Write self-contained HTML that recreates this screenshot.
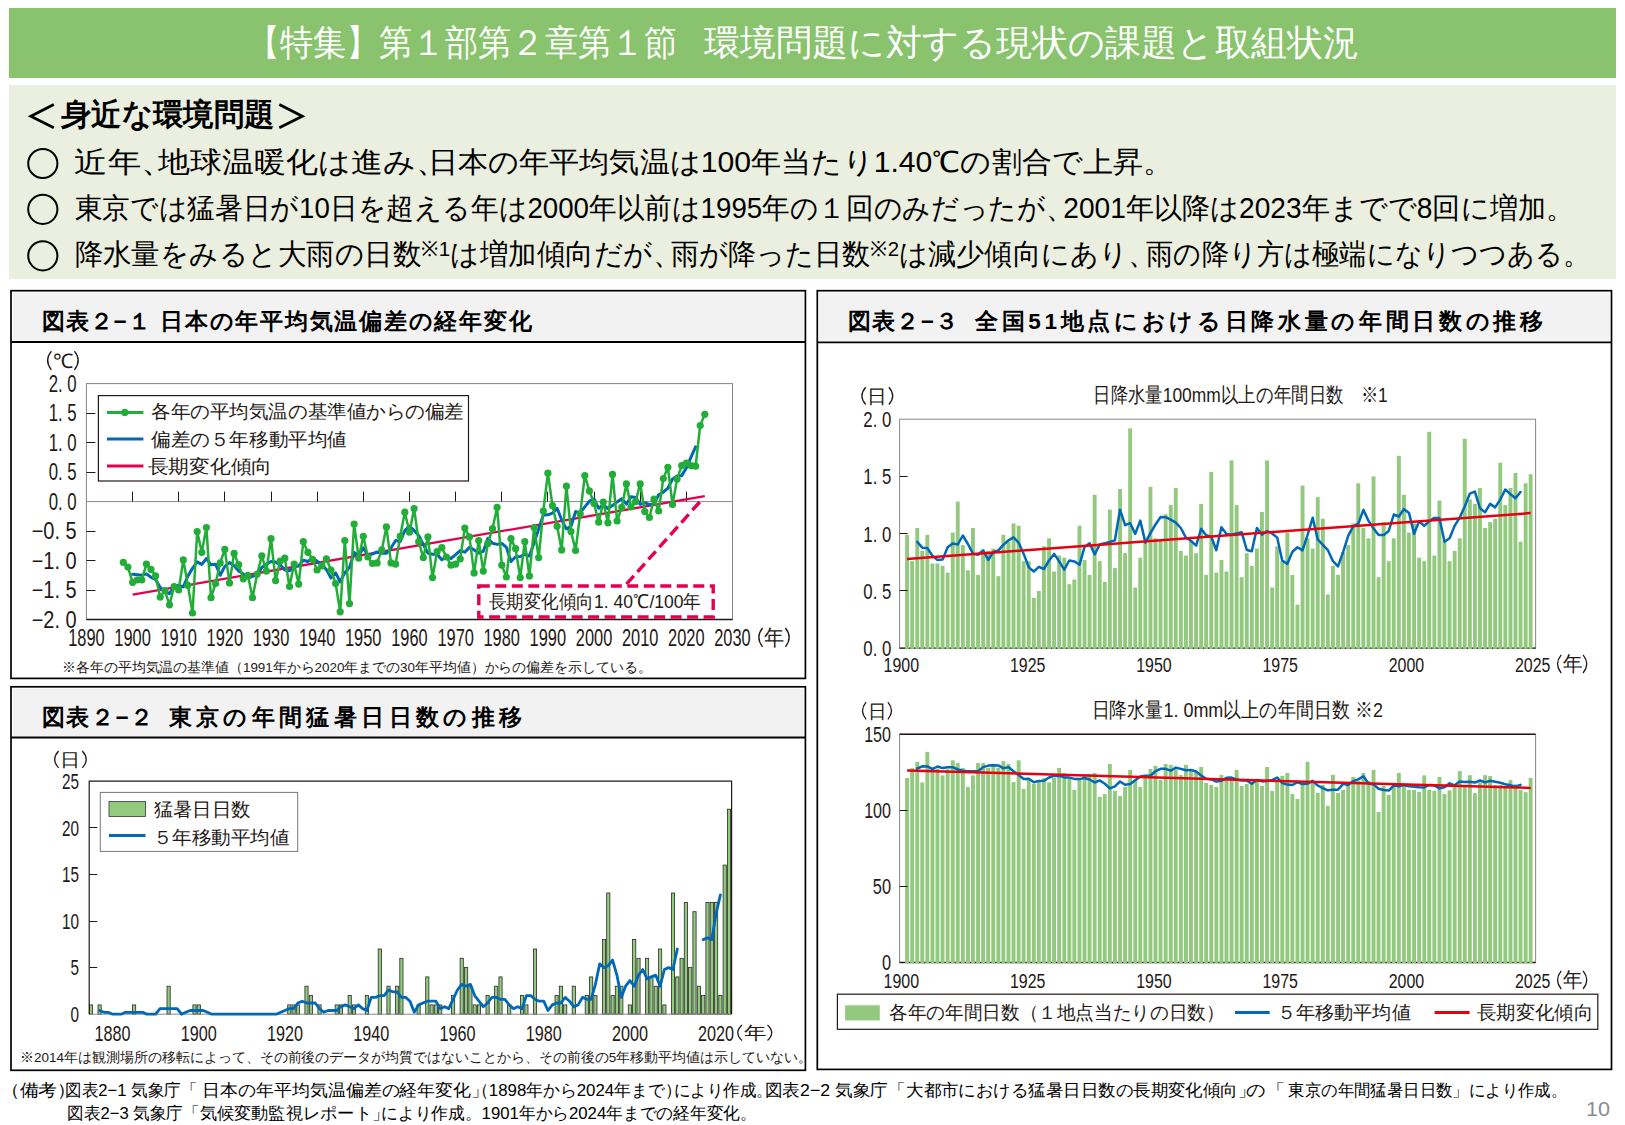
<!DOCTYPE html>
<html><head><meta charset="utf-8"><style>
html,body{margin:0;padding:0;background:#fff;width:1625px;height:1125px;overflow:hidden}
svg{display:block;font-family:"Liberation Sans", sans-serif}
</style></head><body>
<svg width="1625" height="1125" viewBox="0 0 1625 1125">
<rect x="9.0" y="8.0" width="1607.0" height="70.0" fill="#89C36D" stroke="none" stroke-width="0"/>
<text x="246.5" y="54.8" font-size="36" font-weight="normal" fill="#FFFFFF" textLength="430.6" lengthAdjust="spacingAndGlyphs">【特集】第１部第２章第１節</text>
<text x="704.0" y="54.8" font-size="36" font-weight="normal" fill="#FFFFFF" textLength="655.0" lengthAdjust="spacingAndGlyphs">環境問題に対する現状の課題と取組状況</text>
<rect x="9.0" y="85.0" width="1607.0" height="194.0" fill="#EBEFDF" stroke="none" stroke-width="0"/>
<text x="61.0" y="125.0" font-size="31" font-weight="bold" fill="#000" textLength="213.5" lengthAdjust="spacingAndGlyphs">身近な環境問題</text>
<polyline points="53.8,104.4 30.8,116.3 53.8,127.7" fill="none" stroke="#000" stroke-width="2.8"/>
<polyline points="279.3,104.4 302.3,116.3 279.3,127.7" fill="none" stroke="#000" stroke-width="2.8"/>
<circle cx="42.8" cy="163.5" r="14.6" fill="none" stroke="#000" stroke-width="2"/>
<circle cx="42.8" cy="209.3" r="14.6" fill="none" stroke="#000" stroke-width="2"/>
<circle cx="42.8" cy="255.8" r="14.6" fill="none" stroke="#000" stroke-width="2"/>
<text x="74.4" y="172.0" font-size="29" font-weight="normal" fill="#000" textLength="100.0" lengthAdjust="spacingAndGlyphs">近年、</text>
<text x="158.3" y="172.0" font-size="29" font-weight="normal" fill="#000" textLength="289.6" lengthAdjust="spacingAndGlyphs">地球温暖化は進み、</text>
<text x="427.7" y="172.0" font-size="29" font-weight="normal" fill="#000" textLength="745.6" lengthAdjust="spacingAndGlyphs">日本の年平均気温は100年当たり1.40℃の割合で上昇。</text>
<text x="74.8" y="218.0" font-size="29" font-weight="normal" fill="#000" textLength="998.5" lengthAdjust="spacingAndGlyphs">東京では猛暑日が10日を超える年は2000年以前は1995年の１回のみだったが、</text>
<text x="1063.3" y="218.0" font-size="29" font-weight="normal" fill="#000" textLength="510.6" lengthAdjust="spacingAndGlyphs">2001年以降は2023年までで8回に増加。</text>
<text x="74.5" y="264.0" font-size="29" font-weight="normal" fill="#000" textLength="606.5" lengthAdjust="spacingAndGlyphs">降水量をみると大雨の日数<tspan font-size="21" dy="-8">※1</tspan><tspan dy="8">は増加傾向だが、</tspan></text>
<text x="670.7" y="264.0" font-size="29" font-weight="normal" fill="#000" textLength="485.3" lengthAdjust="spacingAndGlyphs">雨が降った日数<tspan font-size="21" dy="-8">※2</tspan><tspan dy="8">は減少傾向にあり、</tspan></text>
<text x="1146.2" y="264.0" font-size="29" font-weight="normal" fill="#000" textLength="444.4" lengthAdjust="spacingAndGlyphs">雨の降り方は極端になりつつある。</text>
<rect x="12.8" y="292.5" width="790.8" height="47.9" fill="#F2F2F2" stroke="none" stroke-width="0"/>
<rect x="11.0" y="290.7" width="794.4" height="387.7" fill="none" stroke="#000" stroke-width="1.7"/>
<line x1="11.0" y1="342.0" x2="805.4" y2="342.0" stroke="#000" stroke-width="1.8"/>
<rect x="12.8" y="688.6" width="790.8" height="47.3" fill="#F2F2F2" stroke="none" stroke-width="0"/>
<rect x="11.0" y="686.8" width="794.4" height="383.5" fill="none" stroke="#000" stroke-width="1.7"/>
<line x1="11.0" y1="737.5" x2="805.4" y2="737.5" stroke="#000" stroke-width="1.8"/>
<rect x="819.1" y="292.5" width="790.6" height="48.2" fill="#F2F2F2" stroke="none" stroke-width="0"/>
<rect x="817.3" y="290.7" width="794.2" height="778.7" fill="none" stroke="#000" stroke-width="1.7"/>
<line x1="817.3" y1="342.3" x2="1611.5" y2="342.3" stroke="#000" stroke-width="1.8"/>
<text x="42.0" y="328.5" font-size="22.5" font-weight="bold" fill="#000" textLength="108.5" lengthAdjust="spacing">図表２−１</text>
<text x="160.0" y="328.5" font-size="22.5" font-weight="bold" fill="#000" textLength="371.5" lengthAdjust="spacing">日本の年平均気温偏差の経年変化</text>
<text x="42.0" y="725.0" font-size="22.5" font-weight="bold" fill="#000" textLength="111.0" lengthAdjust="spacing">図表２−２</text>
<text x="168.5" y="725.0" font-size="22.5" font-weight="bold" fill="#000" textLength="353.5" lengthAdjust="spacing">東京の年間猛暑日日数の推移</text>
<text x="848.0" y="328.5" font-size="22.5" font-weight="bold" fill="#000" textLength="110.0" lengthAdjust="spacing">図表２−３</text>
<text x="975.0" y="328.5" font-size="22.5" font-weight="bold" fill="#000" textLength="568.0" lengthAdjust="spacing">全国51地点における日降水量の年間日数の推移</text>
<rect x="86.4" y="383.6" width="646.1" height="235.9" fill="none" stroke="#888" stroke-width="1"/>
<line x1="86.4" y1="619.5" x2="732.5" y2="619.5" stroke="#231815" stroke-width="1.5"/>
<line x1="86.4" y1="501.6" x2="732.5" y2="501.6" stroke="#888" stroke-width="1"/>
<line x1="86.4" y1="413.5" x2="95.4" y2="413.5" stroke="#231815" stroke-width="1"/>
<line x1="86.4" y1="442.5" x2="95.4" y2="442.5" stroke="#231815" stroke-width="1"/>
<line x1="86.4" y1="472.5" x2="95.4" y2="472.5" stroke="#231815" stroke-width="1"/>
<line x1="86.4" y1="531.5" x2="95.4" y2="531.5" stroke="#231815" stroke-width="1"/>
<line x1="86.4" y1="560.5" x2="95.4" y2="560.5" stroke="#231815" stroke-width="1"/>
<line x1="86.4" y1="590.5" x2="95.4" y2="590.5" stroke="#231815" stroke-width="1"/>
<line x1="132.5" y1="491.6" x2="132.5" y2="501.6" stroke="#231815" stroke-width="1"/>
<line x1="178.5" y1="491.6" x2="178.5" y2="501.6" stroke="#231815" stroke-width="1"/>
<line x1="224.5" y1="491.6" x2="224.5" y2="501.6" stroke="#231815" stroke-width="1"/>
<line x1="271.5" y1="491.6" x2="271.5" y2="501.6" stroke="#231815" stroke-width="1"/>
<line x1="317.5" y1="491.6" x2="317.5" y2="501.6" stroke="#231815" stroke-width="1"/>
<line x1="363.5" y1="491.6" x2="363.5" y2="501.6" stroke="#231815" stroke-width="1"/>
<line x1="409.5" y1="491.6" x2="409.5" y2="501.6" stroke="#231815" stroke-width="1"/>
<line x1="455.5" y1="491.6" x2="455.5" y2="501.6" stroke="#231815" stroke-width="1"/>
<line x1="501.5" y1="491.6" x2="501.5" y2="501.6" stroke="#231815" stroke-width="1"/>
<line x1="547.5" y1="491.6" x2="547.5" y2="501.6" stroke="#231815" stroke-width="1"/>
<line x1="594.5" y1="491.6" x2="594.5" y2="501.6" stroke="#231815" stroke-width="1"/>
<line x1="640.5" y1="491.6" x2="640.5" y2="501.6" stroke="#231815" stroke-width="1"/>
<line x1="686.5" y1="491.6" x2="686.5" y2="501.6" stroke="#231815" stroke-width="1"/>
<text x="48.7" y="391.8" font-size="23" font-weight="normal" fill="#231815" textLength="28.0" lengthAdjust="spacingAndGlyphs">2. 0</text>
<text x="48.7" y="421.3" font-size="23" font-weight="normal" fill="#231815" textLength="28.0" lengthAdjust="spacingAndGlyphs">1. 5</text>
<text x="48.7" y="450.8" font-size="23" font-weight="normal" fill="#231815" textLength="28.0" lengthAdjust="spacingAndGlyphs">1. 0</text>
<text x="48.7" y="480.3" font-size="23" font-weight="normal" fill="#231815" textLength="28.0" lengthAdjust="spacingAndGlyphs">0. 5</text>
<text x="48.7" y="509.8" font-size="23" font-weight="normal" fill="#231815" textLength="28.0" lengthAdjust="spacingAndGlyphs">0. 0</text>
<text x="31.7" y="539.2" font-size="23" font-weight="normal" fill="#231815" textLength="45.0" lengthAdjust="spacingAndGlyphs">−0. 5</text>
<text x="31.7" y="568.7" font-size="23" font-weight="normal" fill="#231815" textLength="45.0" lengthAdjust="spacingAndGlyphs">−1. 0</text>
<text x="31.7" y="598.2" font-size="23" font-weight="normal" fill="#231815" textLength="45.0" lengthAdjust="spacingAndGlyphs">−1. 5</text>
<text x="31.7" y="627.7" font-size="23" font-weight="normal" fill="#231815" textLength="45.0" lengthAdjust="spacingAndGlyphs">−2. 0</text>
<text x="68.2" y="645.8" font-size="23" font-weight="normal" fill="#231815" textLength="36.5" lengthAdjust="spacingAndGlyphs">1890</text>
<text x="114.3" y="645.8" font-size="23" font-weight="normal" fill="#231815" textLength="36.5" lengthAdjust="spacingAndGlyphs">1900</text>
<text x="160.4" y="645.8" font-size="23" font-weight="normal" fill="#231815" textLength="36.5" lengthAdjust="spacingAndGlyphs">1910</text>
<text x="206.6" y="645.8" font-size="23" font-weight="normal" fill="#231815" textLength="36.5" lengthAdjust="spacingAndGlyphs">1920</text>
<text x="252.8" y="645.8" font-size="23" font-weight="normal" fill="#231815" textLength="36.5" lengthAdjust="spacingAndGlyphs">1930</text>
<text x="298.9" y="645.8" font-size="23" font-weight="normal" fill="#231815" textLength="36.5" lengthAdjust="spacingAndGlyphs">1940</text>
<text x="345.0" y="645.8" font-size="23" font-weight="normal" fill="#231815" textLength="36.5" lengthAdjust="spacingAndGlyphs">1950</text>
<text x="391.2" y="645.8" font-size="23" font-weight="normal" fill="#231815" textLength="36.5" lengthAdjust="spacingAndGlyphs">1960</text>
<text x="437.4" y="645.8" font-size="23" font-weight="normal" fill="#231815" textLength="36.5" lengthAdjust="spacingAndGlyphs">1970</text>
<text x="483.5" y="645.8" font-size="23" font-weight="normal" fill="#231815" textLength="36.5" lengthAdjust="spacingAndGlyphs">1980</text>
<text x="529.6" y="645.8" font-size="23" font-weight="normal" fill="#231815" textLength="36.5" lengthAdjust="spacingAndGlyphs">1990</text>
<text x="575.8" y="645.8" font-size="23" font-weight="normal" fill="#231815" textLength="36.5" lengthAdjust="spacingAndGlyphs">2000</text>
<text x="621.9" y="645.8" font-size="23" font-weight="normal" fill="#231815" textLength="36.5" lengthAdjust="spacingAndGlyphs">2010</text>
<text x="668.1" y="645.8" font-size="23" font-weight="normal" fill="#231815" textLength="36.5" lengthAdjust="spacingAndGlyphs">2020</text>
<text x="714.2" y="645.8" font-size="23" font-weight="normal" fill="#231815" textLength="36.5" lengthAdjust="spacingAndGlyphs">2030</text>
<path d="M762.6,628.0 Q755.0,637.4 762.6,646.8" fill="none" stroke="#231815" stroke-width="1.3"/>
<path d="M785.4,628.0 Q793.0,637.4 785.4,646.8" fill="none" stroke="#231815" stroke-width="1.3"/>
<text x="763.9" y="644.6" font-size="21.6" font-weight="normal" fill="#231815" textLength="20.2" lengthAdjust="spacingAndGlyphs">年</text>
<path d="M51.4,351.1 Q43.8,360.5 51.4,369.8" fill="none" stroke="#231815" stroke-width="1.3"/>
<path d="M74.4,351.1 Q82.0,360.5 74.4,369.8" fill="none" stroke="#231815" stroke-width="1.3"/>
<text x="52.8" y="367.8" font-size="20.1" font-weight="normal" fill="#231815" textLength="20.3" lengthAdjust="spacingAndGlyphs">℃</text>
<line x1="132.6" y1="594.6" x2="704.8" y2="496.2" stroke="#E4004E" stroke-width="2.3"/>
<polyline points="132.6,574.3 137.2,574.7 141.8,575.2 146.4,573.9 151.0,577.3 155.6,579.4 160.2,587.5 164.9,591.0 169.5,593.8 174.1,586.4 178.7,585.3 183.3,586.9 187.9,576.0 192.5,568.4 197.2,561.9 201.8,564.4 206.4,558.5 211.0,564.8 215.6,564.2 220.2,575.3 224.8,566.4 229.5,562.6 234.1,565.8 238.7,571.0 243.3,574.0 247.9,578.1 252.5,576.3 257.2,574.8 261.8,567.5 266.4,564.1 271.0,561.5 275.6,561.9 280.2,565.0 284.8,570.1 289.5,570.8 294.1,566.9 298.7,565.7 303.3,560.3 307.9,561.5 312.5,557.8 317.1,561.2 321.8,564.8 326.4,569.6 331.0,578.0 335.6,572.9 340.2,581.9 344.8,572.7 349.5,567.6 354.1,552.5 358.7,555.8 363.3,547.8 367.9,555.6 372.5,553.9 377.1,552.0 381.8,553.2 386.4,553.3 391.0,548.0 395.6,540.5 400.2,541.5 404.8,530.7 409.5,526.2 414.1,530.4 418.7,535.4 423.3,544.5 427.9,553.1 432.5,554.3 437.1,554.2 441.8,559.8 446.4,557.1 451.0,558.5 455.6,554.6 460.2,550.6 464.8,552.2 469.4,547.4 474.1,549.9 478.7,553.0 483.3,551.3 487.9,538.2 492.5,543.2 497.1,544.4 501.8,543.4 506.4,547.4 511.0,561.5 515.6,556.8 520.2,556.5 524.8,554.3 529.4,556.0 534.1,542.7 538.7,529.0 543.3,515.0 547.9,514.8 552.5,513.2 557.1,508.3 561.7,520.0 566.4,528.9 571.0,526.4 575.6,511.6 580.2,512.5 584.8,506.9 589.4,501.2 594.0,498.8 598.7,508.3 603.3,505.0 607.9,508.5 612.5,505.6 617.1,501.9 621.7,498.7 626.4,504.1 631.0,496.7 635.6,497.5 640.2,504.3 644.8,502.7 649.4,504.6 654.0,503.6 658.7,494.7 663.3,492.1 667.9,488.1 672.5,479.0 677.1,476.0 681.7,475.6 686.4,467.9 691.0,457.2 695.6,446.9" fill="none" stroke="#0068B7" stroke-width="3" stroke-linejoin="round" stroke-linecap="round"/>
<polyline points="123.3,562.3 127.9,567.0 132.6,582.3 137.2,580.0 141.8,580.0 146.4,564.1 151.0,569.4 155.6,575.9 160.2,597.1 164.9,590.6 169.5,604.8 174.1,586.5 178.7,590.0 183.3,559.9 187.9,585.3 192.5,613.0 197.2,531.6 201.8,552.3 206.4,527.5 211.0,597.7 215.6,583.5 220.2,562.9 224.8,549.3 229.5,582.9 234.1,553.4 238.7,564.7 243.3,578.8 247.9,575.3 252.5,597.7 257.2,574.1 261.8,555.8 266.4,571.1 271.0,538.7 275.6,580.6 280.2,561.1 284.8,558.2 289.5,586.5 294.1,564.1 298.7,584.1 303.3,541.7 307.9,552.3 312.5,559.3 317.1,570.0 321.8,565.8 326.4,558.8 331.0,570.0 335.6,583.5 340.2,611.8 344.8,540.5 349.5,603.6 354.1,524.0 358.7,558.2 363.3,536.3 367.9,557.0 372.5,563.5 377.1,562.9 381.8,549.9 386.4,526.9 391.0,562.9 395.6,564.1 400.2,536.3 404.8,512.2 409.5,532.2 414.1,508.6 418.7,541.7 423.3,557.6 427.9,536.9 432.5,577.6 437.1,551.7 441.8,547.6 446.4,557.0 451.0,565.2 455.6,564.1 460.2,558.8 464.8,528.1 469.4,536.9 474.1,572.9 478.7,540.5 483.3,571.1 487.9,543.4 492.5,528.7 497.1,507.4 501.8,565.2 506.4,577.0 511.0,538.7 515.6,548.7 520.2,577.6 524.8,541.7 529.4,575.9 534.1,527.5 538.7,557.6 543.3,511.0 547.9,473.2 552.5,505.7 557.1,526.3 561.7,549.9 566.4,486.2 571.0,531.6 575.6,550.5 580.2,513.9 584.8,475.6 589.4,490.9 594.0,503.3 598.7,522.2 603.3,502.1 607.9,522.8 612.5,474.4 617.1,521.0 621.7,507.4 626.4,483.9 631.0,506.9 635.6,501.6 640.2,483.9 644.8,511.6 649.4,517.5 654.0,499.2 658.7,511.0 663.3,478.5 667.9,467.3 672.5,504.5 677.1,479.1 681.7,465.6 686.4,463.2 691.0,465.6 695.6,466.2 700.2,425.5 704.8,414.3" fill="none" stroke="#22AC38" stroke-width="2.5" stroke-linejoin="round" stroke-linecap="round"/>
<circle cx="123.3" cy="562.3" r="3.6" fill="#22AC38"/>
<circle cx="127.9" cy="567.0" r="3.6" fill="#22AC38"/>
<circle cx="132.6" cy="582.3" r="3.6" fill="#22AC38"/>
<circle cx="137.2" cy="580.0" r="3.6" fill="#22AC38"/>
<circle cx="141.8" cy="580.0" r="3.6" fill="#22AC38"/>
<circle cx="146.4" cy="564.1" r="3.6" fill="#22AC38"/>
<circle cx="151.0" cy="569.4" r="3.6" fill="#22AC38"/>
<circle cx="155.6" cy="575.9" r="3.6" fill="#22AC38"/>
<circle cx="160.2" cy="597.1" r="3.6" fill="#22AC38"/>
<circle cx="164.9" cy="590.6" r="3.6" fill="#22AC38"/>
<circle cx="169.5" cy="604.8" r="3.6" fill="#22AC38"/>
<circle cx="174.1" cy="586.5" r="3.6" fill="#22AC38"/>
<circle cx="178.7" cy="590.0" r="3.6" fill="#22AC38"/>
<circle cx="183.3" cy="559.9" r="3.6" fill="#22AC38"/>
<circle cx="187.9" cy="585.3" r="3.6" fill="#22AC38"/>
<circle cx="192.5" cy="613.0" r="3.6" fill="#22AC38"/>
<circle cx="197.2" cy="531.6" r="3.6" fill="#22AC38"/>
<circle cx="201.8" cy="552.3" r="3.6" fill="#22AC38"/>
<circle cx="206.4" cy="527.5" r="3.6" fill="#22AC38"/>
<circle cx="211.0" cy="597.7" r="3.6" fill="#22AC38"/>
<circle cx="215.6" cy="583.5" r="3.6" fill="#22AC38"/>
<circle cx="220.2" cy="562.9" r="3.6" fill="#22AC38"/>
<circle cx="224.8" cy="549.3" r="3.6" fill="#22AC38"/>
<circle cx="229.5" cy="582.9" r="3.6" fill="#22AC38"/>
<circle cx="234.1" cy="553.4" r="3.6" fill="#22AC38"/>
<circle cx="238.7" cy="564.7" r="3.6" fill="#22AC38"/>
<circle cx="243.3" cy="578.8" r="3.6" fill="#22AC38"/>
<circle cx="247.9" cy="575.3" r="3.6" fill="#22AC38"/>
<circle cx="252.5" cy="597.7" r="3.6" fill="#22AC38"/>
<circle cx="257.2" cy="574.1" r="3.6" fill="#22AC38"/>
<circle cx="261.8" cy="555.8" r="3.6" fill="#22AC38"/>
<circle cx="266.4" cy="571.1" r="3.6" fill="#22AC38"/>
<circle cx="271.0" cy="538.7" r="3.6" fill="#22AC38"/>
<circle cx="275.6" cy="580.6" r="3.6" fill="#22AC38"/>
<circle cx="280.2" cy="561.1" r="3.6" fill="#22AC38"/>
<circle cx="284.8" cy="558.2" r="3.6" fill="#22AC38"/>
<circle cx="289.5" cy="586.5" r="3.6" fill="#22AC38"/>
<circle cx="294.1" cy="564.1" r="3.6" fill="#22AC38"/>
<circle cx="298.7" cy="584.1" r="3.6" fill="#22AC38"/>
<circle cx="303.3" cy="541.7" r="3.6" fill="#22AC38"/>
<circle cx="307.9" cy="552.3" r="3.6" fill="#22AC38"/>
<circle cx="312.5" cy="559.3" r="3.6" fill="#22AC38"/>
<circle cx="317.1" cy="570.0" r="3.6" fill="#22AC38"/>
<circle cx="321.8" cy="565.8" r="3.6" fill="#22AC38"/>
<circle cx="326.4" cy="558.8" r="3.6" fill="#22AC38"/>
<circle cx="331.0" cy="570.0" r="3.6" fill="#22AC38"/>
<circle cx="335.6" cy="583.5" r="3.6" fill="#22AC38"/>
<circle cx="340.2" cy="611.8" r="3.6" fill="#22AC38"/>
<circle cx="344.8" cy="540.5" r="3.6" fill="#22AC38"/>
<circle cx="349.5" cy="603.6" r="3.6" fill="#22AC38"/>
<circle cx="354.1" cy="524.0" r="3.6" fill="#22AC38"/>
<circle cx="358.7" cy="558.2" r="3.6" fill="#22AC38"/>
<circle cx="363.3" cy="536.3" r="3.6" fill="#22AC38"/>
<circle cx="367.9" cy="557.0" r="3.6" fill="#22AC38"/>
<circle cx="372.5" cy="563.5" r="3.6" fill="#22AC38"/>
<circle cx="377.1" cy="562.9" r="3.6" fill="#22AC38"/>
<circle cx="381.8" cy="549.9" r="3.6" fill="#22AC38"/>
<circle cx="386.4" cy="526.9" r="3.6" fill="#22AC38"/>
<circle cx="391.0" cy="562.9" r="3.6" fill="#22AC38"/>
<circle cx="395.6" cy="564.1" r="3.6" fill="#22AC38"/>
<circle cx="400.2" cy="536.3" r="3.6" fill="#22AC38"/>
<circle cx="404.8" cy="512.2" r="3.6" fill="#22AC38"/>
<circle cx="409.5" cy="532.2" r="3.6" fill="#22AC38"/>
<circle cx="414.1" cy="508.6" r="3.6" fill="#22AC38"/>
<circle cx="418.7" cy="541.7" r="3.6" fill="#22AC38"/>
<circle cx="423.3" cy="557.6" r="3.6" fill="#22AC38"/>
<circle cx="427.9" cy="536.9" r="3.6" fill="#22AC38"/>
<circle cx="432.5" cy="577.6" r="3.6" fill="#22AC38"/>
<circle cx="437.1" cy="551.7" r="3.6" fill="#22AC38"/>
<circle cx="441.8" cy="547.6" r="3.6" fill="#22AC38"/>
<circle cx="446.4" cy="557.0" r="3.6" fill="#22AC38"/>
<circle cx="451.0" cy="565.2" r="3.6" fill="#22AC38"/>
<circle cx="455.6" cy="564.1" r="3.6" fill="#22AC38"/>
<circle cx="460.2" cy="558.8" r="3.6" fill="#22AC38"/>
<circle cx="464.8" cy="528.1" r="3.6" fill="#22AC38"/>
<circle cx="469.4" cy="536.9" r="3.6" fill="#22AC38"/>
<circle cx="474.1" cy="572.9" r="3.6" fill="#22AC38"/>
<circle cx="478.7" cy="540.5" r="3.6" fill="#22AC38"/>
<circle cx="483.3" cy="571.1" r="3.6" fill="#22AC38"/>
<circle cx="487.9" cy="543.4" r="3.6" fill="#22AC38"/>
<circle cx="492.5" cy="528.7" r="3.6" fill="#22AC38"/>
<circle cx="497.1" cy="507.4" r="3.6" fill="#22AC38"/>
<circle cx="501.8" cy="565.2" r="3.6" fill="#22AC38"/>
<circle cx="506.4" cy="577.0" r="3.6" fill="#22AC38"/>
<circle cx="511.0" cy="538.7" r="3.6" fill="#22AC38"/>
<circle cx="515.6" cy="548.7" r="3.6" fill="#22AC38"/>
<circle cx="520.2" cy="577.6" r="3.6" fill="#22AC38"/>
<circle cx="524.8" cy="541.7" r="3.6" fill="#22AC38"/>
<circle cx="529.4" cy="575.9" r="3.6" fill="#22AC38"/>
<circle cx="534.1" cy="527.5" r="3.6" fill="#22AC38"/>
<circle cx="538.7" cy="557.6" r="3.6" fill="#22AC38"/>
<circle cx="543.3" cy="511.0" r="3.6" fill="#22AC38"/>
<circle cx="547.9" cy="473.2" r="3.6" fill="#22AC38"/>
<circle cx="552.5" cy="505.7" r="3.6" fill="#22AC38"/>
<circle cx="557.1" cy="526.3" r="3.6" fill="#22AC38"/>
<circle cx="561.7" cy="549.9" r="3.6" fill="#22AC38"/>
<circle cx="566.4" cy="486.2" r="3.6" fill="#22AC38"/>
<circle cx="571.0" cy="531.6" r="3.6" fill="#22AC38"/>
<circle cx="575.6" cy="550.5" r="3.6" fill="#22AC38"/>
<circle cx="580.2" cy="513.9" r="3.6" fill="#22AC38"/>
<circle cx="584.8" cy="475.6" r="3.6" fill="#22AC38"/>
<circle cx="589.4" cy="490.9" r="3.6" fill="#22AC38"/>
<circle cx="594.0" cy="503.3" r="3.6" fill="#22AC38"/>
<circle cx="598.7" cy="522.2" r="3.6" fill="#22AC38"/>
<circle cx="603.3" cy="502.1" r="3.6" fill="#22AC38"/>
<circle cx="607.9" cy="522.8" r="3.6" fill="#22AC38"/>
<circle cx="612.5" cy="474.4" r="3.6" fill="#22AC38"/>
<circle cx="617.1" cy="521.0" r="3.6" fill="#22AC38"/>
<circle cx="621.7" cy="507.4" r="3.6" fill="#22AC38"/>
<circle cx="626.4" cy="483.9" r="3.6" fill="#22AC38"/>
<circle cx="631.0" cy="506.9" r="3.6" fill="#22AC38"/>
<circle cx="635.6" cy="501.6" r="3.6" fill="#22AC38"/>
<circle cx="640.2" cy="483.9" r="3.6" fill="#22AC38"/>
<circle cx="644.8" cy="511.6" r="3.6" fill="#22AC38"/>
<circle cx="649.4" cy="517.5" r="3.6" fill="#22AC38"/>
<circle cx="654.0" cy="499.2" r="3.6" fill="#22AC38"/>
<circle cx="658.7" cy="511.0" r="3.6" fill="#22AC38"/>
<circle cx="663.3" cy="478.5" r="3.6" fill="#22AC38"/>
<circle cx="667.9" cy="467.3" r="3.6" fill="#22AC38"/>
<circle cx="672.5" cy="504.5" r="3.6" fill="#22AC38"/>
<circle cx="677.1" cy="479.1" r="3.6" fill="#22AC38"/>
<circle cx="681.7" cy="465.6" r="3.6" fill="#22AC38"/>
<circle cx="686.4" cy="463.2" r="3.6" fill="#22AC38"/>
<circle cx="691.0" cy="465.6" r="3.6" fill="#22AC38"/>
<circle cx="695.6" cy="466.2" r="3.6" fill="#22AC38"/>
<circle cx="700.2" cy="425.5" r="3.6" fill="#22AC38"/>
<circle cx="704.8" cy="414.3" r="3.6" fill="#22AC38"/>
<rect x="98.4" y="395.6" width="370.1" height="85.4" fill="#fff" stroke="#231815" stroke-width="1.2"/>
<line x1="107.0" y1="412.4" x2="143.4" y2="412.4" stroke="#22AC38" stroke-width="3"/>
<circle cx="124.8" cy="412.4" r="3.6" fill="#22AC38"/>
<text x="151.0" y="418.2" font-size="19" font-weight="normal" fill="#231815" textLength="313.0" lengthAdjust="spacingAndGlyphs">各年の平均気温の基準値からの偏差</text>
<line x1="107.0" y1="439.0" x2="143.4" y2="439.0" stroke="#0068B7" stroke-width="3"/>
<text x="151.0" y="445.5" font-size="19" font-weight="normal" fill="#231815" textLength="196.0" lengthAdjust="spacingAndGlyphs">偏差の５年移動平均値</text>
<line x1="107.0" y1="466.0" x2="143.4" y2="466.0" stroke="#E4004E" stroke-width="3"/>
<text x="147.6" y="472.5" font-size="19" font-weight="normal" fill="#231815" textLength="124.5" lengthAdjust="spacingAndGlyphs">長期変化傾向</text>
<rect x="478.8" y="586.0" width="234.4" height="31.0" fill="#fff" stroke="#E4004E" stroke-width="3.4" stroke-dasharray="11,5.5"/>
<line x1="699.7" y1="502.0" x2="624.8" y2="586.0" stroke="#E4004E" stroke-width="3.4" stroke-dasharray="11,5.5"/>
<text x="489.0" y="607.5" font-size="19" font-weight="normal" fill="#231815" textLength="212.0" lengthAdjust="spacingAndGlyphs">長期変化傾向1. 40℃/100年</text>
<text x="62.0" y="672.0" font-size="13.5" font-weight="normal" fill="#231815" textLength="589.6" lengthAdjust="spacingAndGlyphs">※各年の平均気温の基準値（1991年から2020年までの30年平均値）からの偏差を示している。</text>
<rect x="89.4" y="1004.9" width="3.2" height="9.3" fill="#93CB7E" stroke="#2a2a2a" stroke-width="0.8"/>
<rect x="98.0" y="1004.9" width="3.2" height="9.3" fill="#93CB7E" stroke="#2a2a2a" stroke-width="0.8"/>
<rect x="132.5" y="1004.9" width="3.2" height="9.3" fill="#93CB7E" stroke="#2a2a2a" stroke-width="0.8"/>
<rect x="167.0" y="986.2" width="3.2" height="28.0" fill="#93CB7E" stroke="#2a2a2a" stroke-width="0.8"/>
<rect x="192.9" y="1004.9" width="3.2" height="9.3" fill="#93CB7E" stroke="#2a2a2a" stroke-width="0.8"/>
<rect x="197.2" y="1004.9" width="3.2" height="9.3" fill="#93CB7E" stroke="#2a2a2a" stroke-width="0.8"/>
<rect x="287.7" y="1004.9" width="3.2" height="9.3" fill="#93CB7E" stroke="#2a2a2a" stroke-width="0.8"/>
<rect x="292.0" y="1004.9" width="3.2" height="9.3" fill="#93CB7E" stroke="#2a2a2a" stroke-width="0.8"/>
<rect x="296.3" y="1004.9" width="3.2" height="9.3" fill="#93CB7E" stroke="#2a2a2a" stroke-width="0.8"/>
<rect x="304.9" y="986.2" width="3.2" height="28.0" fill="#93CB7E" stroke="#2a2a2a" stroke-width="0.8"/>
<rect x="309.3" y="995.6" width="3.2" height="18.6" fill="#93CB7E" stroke="#2a2a2a" stroke-width="0.8"/>
<rect x="317.9" y="1004.9" width="3.2" height="9.3" fill="#93CB7E" stroke="#2a2a2a" stroke-width="0.8"/>
<rect x="335.1" y="1004.9" width="3.2" height="9.3" fill="#93CB7E" stroke="#2a2a2a" stroke-width="0.8"/>
<rect x="339.4" y="1004.9" width="3.2" height="9.3" fill="#93CB7E" stroke="#2a2a2a" stroke-width="0.8"/>
<rect x="348.1" y="995.6" width="3.2" height="18.6" fill="#93CB7E" stroke="#2a2a2a" stroke-width="0.8"/>
<rect x="352.4" y="1004.9" width="3.2" height="9.3" fill="#93CB7E" stroke="#2a2a2a" stroke-width="0.8"/>
<rect x="365.3" y="995.6" width="3.2" height="18.6" fill="#93CB7E" stroke="#2a2a2a" stroke-width="0.8"/>
<rect x="378.2" y="949.0" width="3.2" height="65.2" fill="#93CB7E" stroke="#2a2a2a" stroke-width="0.8"/>
<rect x="386.9" y="986.2" width="3.2" height="28.0" fill="#93CB7E" stroke="#2a2a2a" stroke-width="0.8"/>
<rect x="395.5" y="986.2" width="3.2" height="28.0" fill="#93CB7E" stroke="#2a2a2a" stroke-width="0.8"/>
<rect x="399.8" y="958.3" width="3.2" height="55.9" fill="#93CB7E" stroke="#2a2a2a" stroke-width="0.8"/>
<rect x="417.0" y="1004.9" width="3.2" height="9.3" fill="#93CB7E" stroke="#2a2a2a" stroke-width="0.8"/>
<rect x="425.7" y="976.9" width="3.2" height="37.3" fill="#93CB7E" stroke="#2a2a2a" stroke-width="0.8"/>
<rect x="430.0" y="1004.9" width="3.2" height="9.3" fill="#93CB7E" stroke="#2a2a2a" stroke-width="0.8"/>
<rect x="434.3" y="1004.9" width="3.2" height="9.3" fill="#93CB7E" stroke="#2a2a2a" stroke-width="0.8"/>
<rect x="438.6" y="1004.9" width="3.2" height="9.3" fill="#93CB7E" stroke="#2a2a2a" stroke-width="0.8"/>
<rect x="451.5" y="995.6" width="3.2" height="18.6" fill="#93CB7E" stroke="#2a2a2a" stroke-width="0.8"/>
<rect x="460.1" y="958.3" width="3.2" height="55.9" fill="#93CB7E" stroke="#2a2a2a" stroke-width="0.8"/>
<rect x="464.5" y="967.6" width="3.2" height="46.6" fill="#93CB7E" stroke="#2a2a2a" stroke-width="0.8"/>
<rect x="468.8" y="986.2" width="3.2" height="28.0" fill="#93CB7E" stroke="#2a2a2a" stroke-width="0.8"/>
<rect x="473.1" y="1004.9" width="3.2" height="9.3" fill="#93CB7E" stroke="#2a2a2a" stroke-width="0.8"/>
<rect x="477.4" y="1004.9" width="3.2" height="9.3" fill="#93CB7E" stroke="#2a2a2a" stroke-width="0.8"/>
<rect x="486.0" y="995.6" width="3.2" height="18.6" fill="#93CB7E" stroke="#2a2a2a" stroke-width="0.8"/>
<rect x="494.6" y="986.2" width="3.2" height="28.0" fill="#93CB7E" stroke="#2a2a2a" stroke-width="0.8"/>
<rect x="498.9" y="976.9" width="3.2" height="37.3" fill="#93CB7E" stroke="#2a2a2a" stroke-width="0.8"/>
<rect x="507.6" y="1004.9" width="3.2" height="9.3" fill="#93CB7E" stroke="#2a2a2a" stroke-width="0.8"/>
<rect x="520.5" y="995.6" width="3.2" height="18.6" fill="#93CB7E" stroke="#2a2a2a" stroke-width="0.8"/>
<rect x="524.8" y="1004.9" width="3.2" height="9.3" fill="#93CB7E" stroke="#2a2a2a" stroke-width="0.8"/>
<rect x="533.4" y="949.0" width="3.2" height="65.2" fill="#93CB7E" stroke="#2a2a2a" stroke-width="0.8"/>
<rect x="555.0" y="995.6" width="3.2" height="18.6" fill="#93CB7E" stroke="#2a2a2a" stroke-width="0.8"/>
<rect x="559.3" y="986.2" width="3.2" height="28.0" fill="#93CB7E" stroke="#2a2a2a" stroke-width="0.8"/>
<rect x="563.6" y="1004.9" width="3.2" height="9.3" fill="#93CB7E" stroke="#2a2a2a" stroke-width="0.8"/>
<rect x="572.2" y="986.2" width="3.2" height="28.0" fill="#93CB7E" stroke="#2a2a2a" stroke-width="0.8"/>
<rect x="585.2" y="995.6" width="3.2" height="18.6" fill="#93CB7E" stroke="#2a2a2a" stroke-width="0.8"/>
<rect x="589.5" y="976.9" width="3.2" height="37.3" fill="#93CB7E" stroke="#2a2a2a" stroke-width="0.8"/>
<rect x="593.8" y="995.6" width="3.2" height="18.6" fill="#93CB7E" stroke="#2a2a2a" stroke-width="0.8"/>
<rect x="602.4" y="939.6" width="3.2" height="74.6" fill="#93CB7E" stroke="#2a2a2a" stroke-width="0.8"/>
<rect x="606.7" y="893.0" width="3.2" height="121.2" fill="#93CB7E" stroke="#2a2a2a" stroke-width="0.8"/>
<rect x="611.0" y="995.6" width="3.2" height="18.6" fill="#93CB7E" stroke="#2a2a2a" stroke-width="0.8"/>
<rect x="615.3" y="986.2" width="3.2" height="28.0" fill="#93CB7E" stroke="#2a2a2a" stroke-width="0.8"/>
<rect x="619.7" y="986.2" width="3.2" height="28.0" fill="#93CB7E" stroke="#2a2a2a" stroke-width="0.8"/>
<rect x="628.3" y="1004.9" width="3.2" height="9.3" fill="#93CB7E" stroke="#2a2a2a" stroke-width="0.8"/>
<rect x="632.6" y="939.6" width="3.2" height="74.6" fill="#93CB7E" stroke="#2a2a2a" stroke-width="0.8"/>
<rect x="636.9" y="958.3" width="3.2" height="55.9" fill="#93CB7E" stroke="#2a2a2a" stroke-width="0.8"/>
<rect x="645.5" y="958.3" width="3.2" height="55.9" fill="#93CB7E" stroke="#2a2a2a" stroke-width="0.8"/>
<rect x="649.8" y="976.9" width="3.2" height="37.3" fill="#93CB7E" stroke="#2a2a2a" stroke-width="0.8"/>
<rect x="654.1" y="986.2" width="3.2" height="28.0" fill="#93CB7E" stroke="#2a2a2a" stroke-width="0.8"/>
<rect x="658.5" y="949.0" width="3.2" height="65.2" fill="#93CB7E" stroke="#2a2a2a" stroke-width="0.8"/>
<rect x="662.8" y="1004.9" width="3.2" height="9.3" fill="#93CB7E" stroke="#2a2a2a" stroke-width="0.8"/>
<rect x="671.4" y="893.0" width="3.2" height="121.2" fill="#93CB7E" stroke="#2a2a2a" stroke-width="0.8"/>
<rect x="675.7" y="976.9" width="3.2" height="37.3" fill="#93CB7E" stroke="#2a2a2a" stroke-width="0.8"/>
<rect x="680.0" y="958.3" width="3.2" height="55.9" fill="#93CB7E" stroke="#2a2a2a" stroke-width="0.8"/>
<rect x="684.3" y="902.4" width="3.2" height="111.8" fill="#93CB7E" stroke="#2a2a2a" stroke-width="0.8"/>
<rect x="688.6" y="967.6" width="3.2" height="46.6" fill="#93CB7E" stroke="#2a2a2a" stroke-width="0.8"/>
<rect x="692.9" y="911.7" width="3.2" height="102.5" fill="#93CB7E" stroke="#2a2a2a" stroke-width="0.8"/>
<rect x="697.3" y="986.2" width="3.2" height="28.0" fill="#93CB7E" stroke="#2a2a2a" stroke-width="0.8"/>
<rect x="701.6" y="995.6" width="3.2" height="18.6" fill="#93CB7E" stroke="#2a2a2a" stroke-width="0.8"/>
<rect x="705.9" y="902.4" width="3.2" height="111.8" fill="#93CB7E" stroke="#2a2a2a" stroke-width="0.8"/>
<rect x="710.2" y="902.4" width="3.2" height="111.8" fill="#93CB7E" stroke="#2a2a2a" stroke-width="0.8"/>
<rect x="714.5" y="902.4" width="3.2" height="111.8" fill="#93CB7E" stroke="#2a2a2a" stroke-width="0.8"/>
<rect x="718.8" y="995.6" width="3.2" height="18.6" fill="#93CB7E" stroke="#2a2a2a" stroke-width="0.8"/>
<rect x="723.1" y="865.1" width="3.2" height="149.1" fill="#93CB7E" stroke="#2a2a2a" stroke-width="0.8"/>
<rect x="727.4" y="809.2" width="3.2" height="205.0" fill="#93CB7E" stroke="#2a2a2a" stroke-width="0.8"/>
<line x1="89.2" y1="1014.2" x2="731.6" y2="1014.2" stroke="#888" stroke-width="1"/>
<polyline points="89.2,1014.2 89.2,781.2 731.6,781.2 731.6,1014.2" fill="none" stroke="#231815" stroke-width="1.2"/>
<line x1="89.2" y1="967.5" x2="97.2" y2="967.5" stroke="#231815" stroke-width="1"/>
<line x1="89.2" y1="921.5" x2="97.2" y2="921.5" stroke="#231815" stroke-width="1"/>
<line x1="89.2" y1="874.5" x2="97.2" y2="874.5" stroke="#231815" stroke-width="1"/>
<line x1="89.2" y1="827.5" x2="97.2" y2="827.5" stroke="#231815" stroke-width="1"/>
<text x="62.0" y="788.9" font-size="21.5" font-weight="normal" fill="#231815" textLength="17.0" lengthAdjust="spacingAndGlyphs">25</text>
<text x="62.0" y="835.5" font-size="21.5" font-weight="normal" fill="#231815" textLength="17.0" lengthAdjust="spacingAndGlyphs">20</text>
<text x="62.0" y="882.1" font-size="21.5" font-weight="normal" fill="#231815" textLength="17.0" lengthAdjust="spacingAndGlyphs">15</text>
<text x="62.0" y="928.7" font-size="21.5" font-weight="normal" fill="#231815" textLength="17.0" lengthAdjust="spacingAndGlyphs">10</text>
<text x="70.5" y="975.3" font-size="21.5" font-weight="normal" fill="#231815" textLength="8.5" lengthAdjust="spacingAndGlyphs">5</text>
<text x="70.5" y="1021.9" font-size="21.5" font-weight="normal" fill="#231815" textLength="8.5" lengthAdjust="spacingAndGlyphs">0</text>
<text x="94.6" y="1041.0" font-size="21.5" font-weight="normal" fill="#231815" textLength="36.0" lengthAdjust="spacingAndGlyphs">1880</text>
<text x="180.8" y="1041.0" font-size="21.5" font-weight="normal" fill="#231815" textLength="36.0" lengthAdjust="spacingAndGlyphs">1900</text>
<text x="267.0" y="1041.0" font-size="21.5" font-weight="normal" fill="#231815" textLength="36.0" lengthAdjust="spacingAndGlyphs">1920</text>
<text x="353.2" y="1041.0" font-size="21.5" font-weight="normal" fill="#231815" textLength="36.0" lengthAdjust="spacingAndGlyphs">1940</text>
<text x="439.4" y="1041.0" font-size="21.5" font-weight="normal" fill="#231815" textLength="36.0" lengthAdjust="spacingAndGlyphs">1960</text>
<text x="525.7" y="1041.0" font-size="21.5" font-weight="normal" fill="#231815" textLength="36.0" lengthAdjust="spacingAndGlyphs">1980</text>
<text x="611.9" y="1041.0" font-size="21.5" font-weight="normal" fill="#231815" textLength="36.0" lengthAdjust="spacingAndGlyphs">2000</text>
<text x="698.1" y="1041.0" font-size="21.5" font-weight="normal" fill="#231815" textLength="36.0" lengthAdjust="spacingAndGlyphs">2020</text>
<path d="M742.0,1025.0 Q733.6,1032.8 742.0,1040.6" fill="none" stroke="#231815" stroke-width="1.3"/>
<path d="M767.5,1025.0 Q775.9,1032.8 767.5,1040.6" fill="none" stroke="#231815" stroke-width="1.3"/>
<text x="743.5" y="1038.8" font-size="17.9" font-weight="normal" fill="#231815" textLength="22.5" lengthAdjust="spacingAndGlyphs">年</text>
<path d="M58.6,751.0 Q50.8,759.5 58.6,767.9" fill="none" stroke="#231815" stroke-width="1.3"/>
<path d="M82.3,751.0 Q90.1,759.5 82.3,767.9" fill="none" stroke="#231815" stroke-width="1.3"/>
<text x="60.3" y="766.1" font-size="18.3" font-weight="normal" fill="#231815" textLength="20.2" lengthAdjust="spacingAndGlyphs">日</text>
<polyline points="99.6,1010.5 103.9,1012.3 108.2,1012.3 112.6,1014.2 116.9,1014.2 121.2,1014.2 125.5,1012.3 129.8,1012.3 134.1,1012.3 138.4,1012.3 142.7,1012.3 147.0,1014.2 151.4,1014.2 155.7,1014.2 160.0,1008.6 164.3,1008.6 168.6,1008.6 172.9,1008.6 177.2,1008.6 181.5,1014.2 185.8,1012.3 190.2,1010.5 194.5,1010.5 198.8,1010.5 203.1,1010.5 207.4,1012.3 211.7,1014.2 216.0,1014.2 220.3,1014.2 224.6,1014.2 229.0,1014.2 233.3,1014.2 237.6,1014.2 241.9,1014.2 246.2,1014.2 250.5,1014.2 254.8,1014.2 259.1,1014.2 263.4,1014.2 267.8,1014.2 272.1,1014.2 276.4,1014.2 280.7,1012.3 285.0,1010.5 289.3,1008.6 293.6,1008.6 297.9,1003.0 302.2,1001.2 306.6,1003.0 310.9,1003.0 315.2,1003.0 319.5,1008.6 323.8,1012.3 328.1,1010.5 332.4,1010.5 336.7,1010.5 341.0,1006.7 345.3,1004.9 349.7,1006.7 354.0,1008.6 358.3,1004.9 362.6,1008.6 366.9,1010.5 371.2,997.4 375.5,997.4 379.8,995.6 384.1,995.6 388.5,990.0 392.8,991.8 397.1,991.8 401.4,997.4 405.7,997.4 410.0,1001.2 414.3,1012.3 418.6,1004.9 422.9,1003.0 427.3,1001.2 431.6,1001.2 435.9,1001.2 440.2,1008.6 444.5,1006.7 448.8,1008.6 453.1,999.3 457.4,990.0 461.7,984.4 466.1,986.2 470.4,984.4 474.7,995.6 479.0,1001.2 483.3,1006.7 487.6,1003.0 491.9,997.4 496.2,997.4 500.5,999.3 504.9,999.3 509.2,1004.9 513.5,1008.6 517.8,1006.7 522.1,1008.6 526.4,995.6 530.7,995.6 535.0,999.3 539.3,1001.2 543.7,1001.2 548.0,1010.5 552.3,1004.9 556.6,1003.0 560.9,1003.0 565.2,997.4 569.5,1001.2 573.8,1006.7 578.1,1004.9 582.5,997.4 586.8,999.3 591.1,999.3 595.4,984.4 599.7,963.9 604.0,967.6 608.3,965.7 612.6,960.1 616.9,975.1 621.3,997.4 625.6,986.2 629.9,980.6 634.2,986.2 638.5,975.1 642.8,969.5 647.1,978.8 651.4,976.9 655.7,975.1 660.1,986.2 664.4,969.5 668.7,967.6 673.0,969.5 677.3,949.0" fill="none" stroke="#0068B7" stroke-width="2.8" stroke-linejoin="round" stroke-linecap="round"/>
<polyline points="703.2,939.6 707.5,937.8 711.8,939.6 716.1,913.5 720.4,894.9" fill="none" stroke="#0068B7" stroke-width="2.8" stroke-linejoin="round" stroke-linecap="round"/>
<rect x="100.3" y="792.4" width="197.4" height="59.0" fill="#fff" stroke="#777" stroke-width="1"/>
<rect x="109.0" y="801.5" width="36.5" height="15.0" fill="#93CB7E" stroke="#333" stroke-width="0.8"/>
<text x="153.5" y="816.0" font-size="19" font-weight="normal" fill="#231815" textLength="97.0" lengthAdjust="spacingAndGlyphs">猛暑日日数</text>
<line x1="109.0" y1="835.6" x2="145.5" y2="835.6" stroke="#0068B7" stroke-width="3"/>
<text x="152.5" y="843.5" font-size="19" font-weight="normal" fill="#231815" textLength="137.0" lengthAdjust="spacingAndGlyphs">５年移動平均値</text>
<text x="20.1" y="1061.5" font-size="13.5" font-weight="normal" fill="#231815" textLength="791.7" lengthAdjust="spacingAndGlyphs">※2014年は観測場所の移転によって、その前後のデータが均質ではないことから、その前後の5年移動平均値は示していない。</text>
<rect x="899.6" y="419.2" width="636.0" height="229.0" fill="none" stroke="#888" stroke-width="1"/>
<line x1="899.6" y1="648.2" x2="1535.6" y2="648.2" stroke="#231815" stroke-width="1.3"/>
<rect x="905.1" y="534.8" width="3.9" height="114.1" fill="#93C97F" stroke="none" stroke-width="0"/>
<rect x="910.2" y="561.2" width="3.9" height="87.7" fill="#93C97F" stroke="none" stroke-width="0"/>
<rect x="915.3" y="528.0" width="3.9" height="120.9" fill="#93C97F" stroke="none" stroke-width="0"/>
<rect x="920.3" y="550.9" width="3.9" height="98.0" fill="#93C97F" stroke="none" stroke-width="0"/>
<rect x="925.4" y="534.8" width="3.9" height="114.1" fill="#93C97F" stroke="none" stroke-width="0"/>
<rect x="930.5" y="563.5" width="3.9" height="85.4" fill="#93C97F" stroke="none" stroke-width="0"/>
<rect x="935.5" y="563.5" width="3.9" height="85.4" fill="#93C97F" stroke="none" stroke-width="0"/>
<rect x="940.6" y="565.8" width="3.9" height="83.1" fill="#93C97F" stroke="none" stroke-width="0"/>
<rect x="945.7" y="572.6" width="3.9" height="76.3" fill="#93C97F" stroke="none" stroke-width="0"/>
<rect x="950.8" y="532.6" width="3.9" height="116.3" fill="#93C97F" stroke="none" stroke-width="0"/>
<rect x="955.8" y="501.6" width="3.9" height="147.3" fill="#93C97F" stroke="none" stroke-width="0"/>
<rect x="960.9" y="545.1" width="3.9" height="103.8" fill="#93C97F" stroke="none" stroke-width="0"/>
<rect x="966.0" y="570.3" width="3.9" height="78.6" fill="#93C97F" stroke="none" stroke-width="0"/>
<rect x="971.0" y="528.0" width="3.9" height="120.9" fill="#93C97F" stroke="none" stroke-width="0"/>
<rect x="976.1" y="574.9" width="3.9" height="74.0" fill="#93C97F" stroke="none" stroke-width="0"/>
<rect x="981.2" y="549.7" width="3.9" height="99.2" fill="#93C97F" stroke="none" stroke-width="0"/>
<rect x="986.2" y="550.9" width="3.9" height="98.0" fill="#93C97F" stroke="none" stroke-width="0"/>
<rect x="991.3" y="548.6" width="3.9" height="100.3" fill="#93C97F" stroke="none" stroke-width="0"/>
<rect x="996.4" y="576.1" width="3.9" height="72.8" fill="#93C97F" stroke="none" stroke-width="0"/>
<rect x="1001.4" y="534.8" width="3.9" height="114.1" fill="#93C97F" stroke="none" stroke-width="0"/>
<rect x="1006.5" y="541.7" width="3.9" height="107.2" fill="#93C97F" stroke="none" stroke-width="0"/>
<rect x="1011.6" y="523.4" width="3.9" height="125.5" fill="#93C97F" stroke="none" stroke-width="0"/>
<rect x="1016.7" y="525.7" width="3.9" height="123.2" fill="#93C97F" stroke="none" stroke-width="0"/>
<rect x="1021.7" y="561.2" width="3.9" height="87.7" fill="#93C97F" stroke="none" stroke-width="0"/>
<rect x="1026.8" y="561.2" width="3.9" height="87.7" fill="#93C97F" stroke="none" stroke-width="0"/>
<rect x="1031.9" y="597.8" width="3.9" height="51.1" fill="#93C97F" stroke="none" stroke-width="0"/>
<rect x="1036.9" y="591.0" width="3.9" height="58.0" fill="#93C97F" stroke="none" stroke-width="0"/>
<rect x="1042.0" y="546.3" width="3.9" height="102.6" fill="#93C97F" stroke="none" stroke-width="0"/>
<rect x="1047.1" y="538.3" width="3.9" height="110.6" fill="#93C97F" stroke="none" stroke-width="0"/>
<rect x="1052.1" y="571.5" width="3.9" height="77.4" fill="#93C97F" stroke="none" stroke-width="0"/>
<rect x="1057.2" y="555.5" width="3.9" height="93.4" fill="#93C97F" stroke="none" stroke-width="0"/>
<rect x="1062.3" y="557.7" width="3.9" height="91.2" fill="#93C97F" stroke="none" stroke-width="0"/>
<rect x="1067.4" y="584.1" width="3.9" height="64.8" fill="#93C97F" stroke="none" stroke-width="0"/>
<rect x="1072.4" y="579.5" width="3.9" height="69.4" fill="#93C97F" stroke="none" stroke-width="0"/>
<rect x="1077.5" y="525.7" width="3.9" height="123.2" fill="#93C97F" stroke="none" stroke-width="0"/>
<rect x="1082.6" y="560.0" width="3.9" height="88.9" fill="#93C97F" stroke="none" stroke-width="0"/>
<rect x="1087.6" y="574.9" width="3.9" height="74.0" fill="#93C97F" stroke="none" stroke-width="0"/>
<rect x="1092.7" y="494.8" width="3.9" height="154.1" fill="#93C97F" stroke="none" stroke-width="0"/>
<rect x="1097.8" y="561.2" width="3.9" height="87.7" fill="#93C97F" stroke="none" stroke-width="0"/>
<rect x="1102.8" y="581.8" width="3.9" height="67.1" fill="#93C97F" stroke="none" stroke-width="0"/>
<rect x="1107.9" y="509.7" width="3.9" height="139.2" fill="#93C97F" stroke="none" stroke-width="0"/>
<rect x="1113.0" y="568.1" width="3.9" height="80.8" fill="#93C97F" stroke="none" stroke-width="0"/>
<rect x="1118.1" y="489.0" width="3.9" height="159.9" fill="#93C97F" stroke="none" stroke-width="0"/>
<rect x="1123.1" y="553.2" width="3.9" height="95.7" fill="#93C97F" stroke="none" stroke-width="0"/>
<rect x="1128.2" y="428.4" width="3.9" height="220.5" fill="#93C97F" stroke="none" stroke-width="0"/>
<rect x="1133.3" y="587.5" width="3.9" height="61.4" fill="#93C97F" stroke="none" stroke-width="0"/>
<rect x="1138.3" y="557.7" width="3.9" height="91.2" fill="#93C97F" stroke="none" stroke-width="0"/>
<rect x="1143.4" y="542.9" width="3.9" height="106.0" fill="#93C97F" stroke="none" stroke-width="0"/>
<rect x="1148.5" y="486.8" width="3.9" height="162.1" fill="#93C97F" stroke="none" stroke-width="0"/>
<rect x="1153.5" y="538.3" width="3.9" height="110.6" fill="#93C97F" stroke="none" stroke-width="0"/>
<rect x="1158.6" y="540.6" width="3.9" height="108.3" fill="#93C97F" stroke="none" stroke-width="0"/>
<rect x="1163.7" y="514.2" width="3.9" height="134.7" fill="#93C97F" stroke="none" stroke-width="0"/>
<rect x="1168.8" y="505.1" width="3.9" height="143.8" fill="#93C97F" stroke="none" stroke-width="0"/>
<rect x="1173.8" y="487.9" width="3.9" height="161.0" fill="#93C97F" stroke="none" stroke-width="0"/>
<rect x="1178.9" y="550.9" width="3.9" height="98.0" fill="#93C97F" stroke="none" stroke-width="0"/>
<rect x="1184.0" y="555.5" width="3.9" height="93.4" fill="#93C97F" stroke="none" stroke-width="0"/>
<rect x="1189.0" y="540.6" width="3.9" height="108.3" fill="#93C97F" stroke="none" stroke-width="0"/>
<rect x="1194.1" y="553.2" width="3.9" height="95.7" fill="#93C97F" stroke="none" stroke-width="0"/>
<rect x="1199.2" y="503.9" width="3.9" height="145.0" fill="#93C97F" stroke="none" stroke-width="0"/>
<rect x="1204.2" y="574.9" width="3.9" height="74.0" fill="#93C97F" stroke="none" stroke-width="0"/>
<rect x="1209.3" y="471.9" width="3.9" height="177.0" fill="#93C97F" stroke="none" stroke-width="0"/>
<rect x="1214.4" y="572.6" width="3.9" height="76.3" fill="#93C97F" stroke="none" stroke-width="0"/>
<rect x="1219.5" y="560.0" width="3.9" height="88.9" fill="#93C97F" stroke="none" stroke-width="0"/>
<rect x="1224.5" y="571.5" width="3.9" height="77.4" fill="#93C97F" stroke="none" stroke-width="0"/>
<rect x="1229.6" y="460.4" width="3.9" height="188.5" fill="#93C97F" stroke="none" stroke-width="0"/>
<rect x="1234.7" y="505.1" width="3.9" height="143.8" fill="#93C97F" stroke="none" stroke-width="0"/>
<rect x="1239.7" y="577.2" width="3.9" height="71.7" fill="#93C97F" stroke="none" stroke-width="0"/>
<rect x="1244.8" y="553.2" width="3.9" height="95.7" fill="#93C97F" stroke="none" stroke-width="0"/>
<rect x="1249.9" y="565.8" width="3.9" height="83.1" fill="#93C97F" stroke="none" stroke-width="0"/>
<rect x="1255.0" y="548.6" width="3.9" height="100.3" fill="#93C97F" stroke="none" stroke-width="0"/>
<rect x="1260.0" y="511.9" width="3.9" height="137.0" fill="#93C97F" stroke="none" stroke-width="0"/>
<rect x="1265.1" y="460.4" width="3.9" height="188.5" fill="#93C97F" stroke="none" stroke-width="0"/>
<rect x="1270.2" y="587.5" width="3.9" height="61.4" fill="#93C97F" stroke="none" stroke-width="0"/>
<rect x="1275.2" y="546.3" width="3.9" height="102.6" fill="#93C97F" stroke="none" stroke-width="0"/>
<rect x="1280.3" y="561.2" width="3.9" height="87.7" fill="#93C97F" stroke="none" stroke-width="0"/>
<rect x="1285.4" y="532.6" width="3.9" height="116.3" fill="#93C97F" stroke="none" stroke-width="0"/>
<rect x="1290.4" y="574.9" width="3.9" height="74.0" fill="#93C97F" stroke="none" stroke-width="0"/>
<rect x="1295.5" y="604.7" width="3.9" height="44.2" fill="#93C97F" stroke="none" stroke-width="0"/>
<rect x="1300.6" y="485.6" width="3.9" height="163.3" fill="#93C97F" stroke="none" stroke-width="0"/>
<rect x="1305.6" y="538.3" width="3.9" height="110.6" fill="#93C97F" stroke="none" stroke-width="0"/>
<rect x="1310.7" y="548.6" width="3.9" height="100.3" fill="#93C97F" stroke="none" stroke-width="0"/>
<rect x="1315.8" y="497.1" width="3.9" height="151.8" fill="#93C97F" stroke="none" stroke-width="0"/>
<rect x="1320.9" y="518.8" width="3.9" height="130.1" fill="#93C97F" stroke="none" stroke-width="0"/>
<rect x="1325.9" y="594.4" width="3.9" height="54.5" fill="#93C97F" stroke="none" stroke-width="0"/>
<rect x="1331.0" y="565.8" width="3.9" height="83.1" fill="#93C97F" stroke="none" stroke-width="0"/>
<rect x="1336.1" y="574.9" width="3.9" height="74.0" fill="#93C97F" stroke="none" stroke-width="0"/>
<rect x="1341.1" y="552.0" width="3.9" height="96.9" fill="#93C97F" stroke="none" stroke-width="0"/>
<rect x="1346.2" y="545.1" width="3.9" height="103.8" fill="#93C97F" stroke="none" stroke-width="0"/>
<rect x="1351.3" y="523.4" width="3.9" height="125.5" fill="#93C97F" stroke="none" stroke-width="0"/>
<rect x="1356.3" y="483.3" width="3.9" height="165.6" fill="#93C97F" stroke="none" stroke-width="0"/>
<rect x="1361.4" y="528.0" width="3.9" height="120.9" fill="#93C97F" stroke="none" stroke-width="0"/>
<rect x="1366.5" y="538.3" width="3.9" height="110.6" fill="#93C97F" stroke="none" stroke-width="0"/>
<rect x="1371.6" y="476.4" width="3.9" height="172.5" fill="#93C97F" stroke="none" stroke-width="0"/>
<rect x="1376.6" y="577.2" width="3.9" height="71.7" fill="#93C97F" stroke="none" stroke-width="0"/>
<rect x="1381.7" y="522.2" width="3.9" height="126.7" fill="#93C97F" stroke="none" stroke-width="0"/>
<rect x="1386.8" y="561.2" width="3.9" height="87.7" fill="#93C97F" stroke="none" stroke-width="0"/>
<rect x="1391.8" y="538.3" width="3.9" height="110.6" fill="#93C97F" stroke="none" stroke-width="0"/>
<rect x="1396.9" y="455.8" width="3.9" height="193.1" fill="#93C97F" stroke="none" stroke-width="0"/>
<rect x="1402.0" y="494.8" width="3.9" height="154.1" fill="#93C97F" stroke="none" stroke-width="0"/>
<rect x="1407.0" y="532.6" width="3.9" height="116.3" fill="#93C97F" stroke="none" stroke-width="0"/>
<rect x="1412.1" y="523.4" width="3.9" height="125.5" fill="#93C97F" stroke="none" stroke-width="0"/>
<rect x="1417.2" y="557.7" width="3.9" height="91.2" fill="#93C97F" stroke="none" stroke-width="0"/>
<rect x="1422.3" y="561.2" width="3.9" height="87.7" fill="#93C97F" stroke="none" stroke-width="0"/>
<rect x="1427.3" y="431.8" width="3.9" height="217.1" fill="#93C97F" stroke="none" stroke-width="0"/>
<rect x="1432.4" y="555.5" width="3.9" height="93.4" fill="#93C97F" stroke="none" stroke-width="0"/>
<rect x="1437.5" y="500.5" width="3.9" height="148.4" fill="#93C97F" stroke="none" stroke-width="0"/>
<rect x="1442.5" y="540.6" width="3.9" height="108.3" fill="#93C97F" stroke="none" stroke-width="0"/>
<rect x="1447.6" y="561.2" width="3.9" height="87.7" fill="#93C97F" stroke="none" stroke-width="0"/>
<rect x="1452.7" y="550.9" width="3.9" height="98.0" fill="#93C97F" stroke="none" stroke-width="0"/>
<rect x="1457.8" y="538.3" width="3.9" height="110.6" fill="#93C97F" stroke="none" stroke-width="0"/>
<rect x="1462.8" y="438.7" width="3.9" height="210.2" fill="#93C97F" stroke="none" stroke-width="0"/>
<rect x="1467.9" y="499.4" width="3.9" height="149.6" fill="#93C97F" stroke="none" stroke-width="0"/>
<rect x="1473.0" y="503.9" width="3.9" height="145.0" fill="#93C97F" stroke="none" stroke-width="0"/>
<rect x="1478.0" y="487.9" width="3.9" height="161.0" fill="#93C97F" stroke="none" stroke-width="0"/>
<rect x="1483.1" y="528.0" width="3.9" height="120.9" fill="#93C97F" stroke="none" stroke-width="0"/>
<rect x="1488.2" y="522.2" width="3.9" height="126.7" fill="#93C97F" stroke="none" stroke-width="0"/>
<rect x="1493.2" y="518.8" width="3.9" height="130.1" fill="#93C97F" stroke="none" stroke-width="0"/>
<rect x="1498.3" y="462.7" width="3.9" height="186.2" fill="#93C97F" stroke="none" stroke-width="0"/>
<rect x="1503.4" y="505.1" width="3.9" height="143.8" fill="#93C97F" stroke="none" stroke-width="0"/>
<rect x="1508.5" y="487.9" width="3.9" height="161.0" fill="#93C97F" stroke="none" stroke-width="0"/>
<rect x="1513.5" y="473.0" width="3.9" height="175.9" fill="#93C97F" stroke="none" stroke-width="0"/>
<rect x="1518.6" y="541.7" width="3.9" height="107.2" fill="#93C97F" stroke="none" stroke-width="0"/>
<rect x="1523.7" y="483.3" width="3.9" height="165.6" fill="#93C97F" stroke="none" stroke-width="0"/>
<rect x="1528.7" y="474.2" width="3.9" height="174.7" fill="#93C97F" stroke="none" stroke-width="0"/>
<line x1="899.6" y1="476.5" x2="907.6" y2="476.5" stroke="#231815" stroke-width="1"/>
<line x1="899.6" y1="533.5" x2="907.6" y2="533.5" stroke="#231815" stroke-width="1"/>
<line x1="899.6" y1="590.5" x2="907.6" y2="590.5" stroke="#231815" stroke-width="1"/>
<text x="863.3" y="427.0" font-size="21.5" font-weight="normal" fill="#231815" textLength="28.0" lengthAdjust="spacingAndGlyphs">2. 0</text>
<text x="863.3" y="484.2" font-size="21.5" font-weight="normal" fill="#231815" textLength="28.0" lengthAdjust="spacingAndGlyphs">1. 5</text>
<text x="863.3" y="541.5" font-size="21.5" font-weight="normal" fill="#231815" textLength="28.0" lengthAdjust="spacingAndGlyphs">1. 0</text>
<text x="863.3" y="598.8" font-size="21.5" font-weight="normal" fill="#231815" textLength="28.0" lengthAdjust="spacingAndGlyphs">0. 5</text>
<text x="863.3" y="656.0" font-size="21.5" font-weight="normal" fill="#231815" textLength="28.0" lengthAdjust="spacingAndGlyphs">0. 0</text>
<polyline points="917.2,541.9 922.3,547.7 927.4,548.1 932.4,555.7 937.5,560.0 942.6,559.6 947.6,547.2 952.7,543.5 957.8,544.5 962.8,535.5 967.9,544.0 973.0,553.6 978.0,554.8 983.1,550.4 988.2,560.0 993.3,552.0 998.3,550.4 1003.4,544.9 1008.5,540.3 1013.5,537.4 1018.6,542.6 1023.7,553.9 1028.8,567.4 1033.8,571.5 1038.9,566.9 1044.0,569.0 1049.0,560.5 1054.1,553.9 1059.2,561.4 1064.2,569.7 1069.3,560.5 1074.4,561.4 1079.5,564.8 1084.5,547.0 1089.6,543.3 1094.7,554.5 1099.7,544.5 1104.8,543.1 1109.9,541.9 1114.9,540.3 1120.0,509.7 1125.1,525.2 1130.2,523.2 1135.2,533.9 1140.3,520.6 1145.4,542.6 1150.4,533.2 1155.5,524.5 1160.6,517.0 1165.6,517.2 1170.7,519.7 1175.8,522.7 1180.8,528.0 1185.9,537.6 1191.0,540.8 1196.1,545.6 1201.1,528.9 1206.2,535.3 1211.3,536.7 1216.3,550.2 1221.4,527.3 1226.5,533.9 1231.5,534.8 1236.6,533.5 1241.7,532.3 1246.8,550.0 1251.8,551.3 1256.9,528.0 1262.0,534.8 1267.0,531.0 1272.1,533.5 1277.2,537.6 1282.2,560.5 1287.3,563.9 1292.4,551.8 1297.5,547.2 1302.5,550.4 1307.6,534.8 1312.7,517.7 1317.7,539.4 1322.8,544.9 1327.9,550.2 1333.0,561.2 1338.0,566.4 1343.1,552.2 1348.2,535.8 1353.2,526.4 1358.3,523.6 1363.4,509.9 1368.4,520.6 1373.5,528.4 1378.6,535.1 1383.7,535.1 1388.7,531.0 1393.8,514.5 1398.9,516.5 1403.9,509.0 1409.0,512.9 1414.1,533.9 1419.1,521.3 1424.2,525.9 1429.3,521.3 1434.3,517.9 1439.4,517.9 1444.5,541.7 1449.6,538.3 1454.6,525.9 1459.7,517.7 1464.8,506.2 1469.8,493.6 1474.9,491.6 1480.0,508.3 1485.1,512.2 1490.1,503.9 1495.2,507.4 1500.3,499.4 1505.3,489.5 1510.4,494.1 1515.5,498.2 1520.5,492.0" fill="none" stroke="#0068B7" stroke-width="2.5" stroke-linejoin="round" stroke-linecap="round"/>
<line x1="907.1" y1="558.9" x2="1530.7" y2="513.1" stroke="#E60012" stroke-width="2.5"/>
<text x="883.6" y="672.0" font-size="20" font-weight="normal" fill="#231815" textLength="35.5" lengthAdjust="spacingAndGlyphs">1900</text>
<text x="1009.9" y="672.0" font-size="20" font-weight="normal" fill="#231815" textLength="35.5" lengthAdjust="spacingAndGlyphs">1925</text>
<text x="1136.2" y="672.0" font-size="20" font-weight="normal" fill="#231815" textLength="35.5" lengthAdjust="spacingAndGlyphs">1950</text>
<text x="1262.4" y="672.0" font-size="20" font-weight="normal" fill="#231815" textLength="35.5" lengthAdjust="spacingAndGlyphs">1975</text>
<text x="1388.7" y="672.0" font-size="20" font-weight="normal" fill="#231815" textLength="35.5" lengthAdjust="spacingAndGlyphs">2000</text>
<text x="1515.0" y="672.0" font-size="20" font-weight="normal" fill="#231815" textLength="35.5" lengthAdjust="spacingAndGlyphs">2025</text>
<path d="M1561.2,654.8 Q1553.9,663.9 1561.2,673.0" fill="none" stroke="#231815" stroke-width="1.3"/>
<path d="M1583.1,654.8 Q1590.4,663.9 1583.1,673.0" fill="none" stroke="#231815" stroke-width="1.3"/>
<text x="1562.5" y="670.9" font-size="20.9" font-weight="normal" fill="#231815" textLength="19.4" lengthAdjust="spacingAndGlyphs">年</text>
<path d="M865.7,387.2 Q858.1,395.9 865.7,404.5" fill="none" stroke="#231815" stroke-width="1.3"/>
<path d="M888.9,387.2 Q896.5,395.9 888.9,404.5" fill="none" stroke="#231815" stroke-width="1.3"/>
<text x="867.4" y="402.6" font-size="18.7" font-weight="normal" fill="#231815" textLength="19.7" lengthAdjust="spacingAndGlyphs">日</text>
<text x="1093.2" y="401.8" font-size="21" font-weight="normal" fill="#231815" textLength="294.6" lengthAdjust="spacingAndGlyphs">日降水量100mm以上の年間日数　※1</text>
<rect x="899.6" y="734.3" width="636.0" height="228.2" fill="none" stroke="#888" stroke-width="1"/>
<line x1="899.6" y1="962.5" x2="1535.6" y2="962.5" stroke="#231815" stroke-width="1.3"/>
<rect x="905.1" y="778.0" width="3.9" height="185.2" fill="#93C97F" stroke="none" stroke-width="0"/>
<rect x="910.2" y="768.2" width="3.9" height="195.0" fill="#93C97F" stroke="none" stroke-width="0"/>
<rect x="915.3" y="761.8" width="3.9" height="201.4" fill="#93C97F" stroke="none" stroke-width="0"/>
<rect x="920.3" y="782.4" width="3.9" height="180.8" fill="#93C97F" stroke="none" stroke-width="0"/>
<rect x="925.4" y="751.9" width="3.9" height="211.3" fill="#93C97F" stroke="none" stroke-width="0"/>
<rect x="930.5" y="767.0" width="3.9" height="196.2" fill="#93C97F" stroke="none" stroke-width="0"/>
<rect x="935.5" y="768.7" width="3.9" height="194.5" fill="#93C97F" stroke="none" stroke-width="0"/>
<rect x="940.6" y="775.4" width="3.9" height="187.8" fill="#93C97F" stroke="none" stroke-width="0"/>
<rect x="945.7" y="769.3" width="3.9" height="193.9" fill="#93C97F" stroke="none" stroke-width="0"/>
<rect x="950.8" y="760.3" width="3.9" height="202.9" fill="#93C97F" stroke="none" stroke-width="0"/>
<rect x="955.8" y="763.1" width="3.9" height="200.1" fill="#93C97F" stroke="none" stroke-width="0"/>
<rect x="960.9" y="767.9" width="3.9" height="195.3" fill="#93C97F" stroke="none" stroke-width="0"/>
<rect x="966.0" y="786.9" width="3.9" height="176.3" fill="#93C97F" stroke="none" stroke-width="0"/>
<rect x="971.0" y="775.4" width="3.9" height="187.8" fill="#93C97F" stroke="none" stroke-width="0"/>
<rect x="976.1" y="763.1" width="3.9" height="200.1" fill="#93C97F" stroke="none" stroke-width="0"/>
<rect x="981.2" y="763.1" width="3.9" height="200.1" fill="#93C97F" stroke="none" stroke-width="0"/>
<rect x="986.2" y="767.8" width="3.9" height="195.4" fill="#93C97F" stroke="none" stroke-width="0"/>
<rect x="991.3" y="766.2" width="3.9" height="197.0" fill="#93C97F" stroke="none" stroke-width="0"/>
<rect x="996.4" y="767.8" width="3.9" height="195.4" fill="#93C97F" stroke="none" stroke-width="0"/>
<rect x="1001.4" y="761.2" width="3.9" height="202.0" fill="#93C97F" stroke="none" stroke-width="0"/>
<rect x="1006.5" y="764.0" width="3.9" height="199.2" fill="#93C97F" stroke="none" stroke-width="0"/>
<rect x="1011.6" y="782.1" width="3.9" height="181.1" fill="#93C97F" stroke="none" stroke-width="0"/>
<rect x="1016.7" y="760.3" width="3.9" height="202.9" fill="#93C97F" stroke="none" stroke-width="0"/>
<rect x="1021.7" y="788.9" width="3.9" height="174.3" fill="#93C97F" stroke="none" stroke-width="0"/>
<rect x="1026.8" y="779.0" width="3.9" height="184.2" fill="#93C97F" stroke="none" stroke-width="0"/>
<rect x="1031.9" y="784.0" width="3.9" height="179.2" fill="#93C97F" stroke="none" stroke-width="0"/>
<rect x="1036.9" y="781.0" width="3.9" height="182.2" fill="#93C97F" stroke="none" stroke-width="0"/>
<rect x="1042.0" y="778.1" width="3.9" height="185.1" fill="#93C97F" stroke="none" stroke-width="0"/>
<rect x="1047.1" y="782.4" width="3.9" height="180.8" fill="#93C97F" stroke="none" stroke-width="0"/>
<rect x="1052.1" y="778.0" width="3.9" height="185.2" fill="#93C97F" stroke="none" stroke-width="0"/>
<rect x="1057.2" y="767.9" width="3.9" height="195.3" fill="#93C97F" stroke="none" stroke-width="0"/>
<rect x="1062.3" y="773.2" width="3.9" height="190.0" fill="#93C97F" stroke="none" stroke-width="0"/>
<rect x="1067.4" y="778.1" width="3.9" height="185.1" fill="#93C97F" stroke="none" stroke-width="0"/>
<rect x="1072.4" y="789.8" width="3.9" height="173.4" fill="#93C97F" stroke="none" stroke-width="0"/>
<rect x="1077.5" y="779.0" width="3.9" height="184.2" fill="#93C97F" stroke="none" stroke-width="0"/>
<rect x="1082.6" y="774.2" width="3.9" height="189.0" fill="#93C97F" stroke="none" stroke-width="0"/>
<rect x="1087.6" y="774.2" width="3.9" height="189.0" fill="#93C97F" stroke="none" stroke-width="0"/>
<rect x="1092.7" y="772.9" width="3.9" height="190.3" fill="#93C97F" stroke="none" stroke-width="0"/>
<rect x="1097.8" y="797.0" width="3.9" height="166.2" fill="#93C97F" stroke="none" stroke-width="0"/>
<rect x="1102.8" y="794.1" width="3.9" height="169.1" fill="#93C97F" stroke="none" stroke-width="0"/>
<rect x="1107.9" y="764.0" width="3.9" height="199.2" fill="#93C97F" stroke="none" stroke-width="0"/>
<rect x="1113.0" y="790.9" width="3.9" height="172.3" fill="#93C97F" stroke="none" stroke-width="0"/>
<rect x="1118.1" y="795.9" width="3.9" height="167.3" fill="#93C97F" stroke="none" stroke-width="0"/>
<rect x="1123.1" y="786.9" width="3.9" height="176.3" fill="#93C97F" stroke="none" stroke-width="0"/>
<rect x="1128.2" y="769.9" width="3.9" height="193.3" fill="#93C97F" stroke="none" stroke-width="0"/>
<rect x="1133.3" y="779.9" width="3.9" height="183.3" fill="#93C97F" stroke="none" stroke-width="0"/>
<rect x="1138.3" y="786.9" width="3.9" height="176.3" fill="#93C97F" stroke="none" stroke-width="0"/>
<rect x="1143.4" y="777.0" width="3.9" height="186.2" fill="#93C97F" stroke="none" stroke-width="0"/>
<rect x="1148.5" y="769.0" width="3.9" height="194.2" fill="#93C97F" stroke="none" stroke-width="0"/>
<rect x="1153.5" y="765.9" width="3.9" height="197.3" fill="#93C97F" stroke="none" stroke-width="0"/>
<rect x="1158.6" y="780.1" width="3.9" height="183.1" fill="#93C97F" stroke="none" stroke-width="0"/>
<rect x="1163.7" y="764.0" width="3.9" height="199.2" fill="#93C97F" stroke="none" stroke-width="0"/>
<rect x="1168.8" y="764.9" width="3.9" height="198.3" fill="#93C97F" stroke="none" stroke-width="0"/>
<rect x="1173.8" y="769.3" width="3.9" height="193.9" fill="#93C97F" stroke="none" stroke-width="0"/>
<rect x="1178.9" y="775.1" width="3.9" height="188.1" fill="#93C97F" stroke="none" stroke-width="0"/>
<rect x="1184.0" y="764.9" width="3.9" height="198.3" fill="#93C97F" stroke="none" stroke-width="0"/>
<rect x="1189.0" y="770.2" width="3.9" height="193.0" fill="#93C97F" stroke="none" stroke-width="0"/>
<rect x="1194.1" y="772.2" width="3.9" height="191.0" fill="#93C97F" stroke="none" stroke-width="0"/>
<rect x="1199.2" y="767.0" width="3.9" height="196.2" fill="#93C97F" stroke="none" stroke-width="0"/>
<rect x="1204.2" y="783.0" width="3.9" height="180.2" fill="#93C97F" stroke="none" stroke-width="0"/>
<rect x="1209.3" y="785.0" width="3.9" height="178.2" fill="#93C97F" stroke="none" stroke-width="0"/>
<rect x="1214.4" y="786.9" width="3.9" height="176.3" fill="#93C97F" stroke="none" stroke-width="0"/>
<rect x="1219.5" y="774.9" width="3.9" height="188.3" fill="#93C97F" stroke="none" stroke-width="0"/>
<rect x="1224.5" y="778.1" width="3.9" height="185.1" fill="#93C97F" stroke="none" stroke-width="0"/>
<rect x="1229.6" y="779.0" width="3.9" height="184.2" fill="#93C97F" stroke="none" stroke-width="0"/>
<rect x="1234.7" y="769.9" width="3.9" height="193.3" fill="#93C97F" stroke="none" stroke-width="0"/>
<rect x="1239.7" y="786.0" width="3.9" height="177.2" fill="#93C97F" stroke="none" stroke-width="0"/>
<rect x="1244.8" y="784.0" width="3.9" height="179.2" fill="#93C97F" stroke="none" stroke-width="0"/>
<rect x="1249.9" y="783.0" width="3.9" height="180.2" fill="#93C97F" stroke="none" stroke-width="0"/>
<rect x="1255.0" y="780.1" width="3.9" height="183.1" fill="#93C97F" stroke="none" stroke-width="0"/>
<rect x="1260.0" y="786.0" width="3.9" height="177.2" fill="#93C97F" stroke="none" stroke-width="0"/>
<rect x="1265.1" y="767.0" width="3.9" height="196.2" fill="#93C97F" stroke="none" stroke-width="0"/>
<rect x="1270.2" y="790.9" width="3.9" height="172.3" fill="#93C97F" stroke="none" stroke-width="0"/>
<rect x="1275.2" y="781.0" width="3.9" height="182.2" fill="#93C97F" stroke="none" stroke-width="0"/>
<rect x="1280.3" y="775.8" width="3.9" height="187.4" fill="#93C97F" stroke="none" stroke-width="0"/>
<rect x="1285.4" y="772.9" width="3.9" height="190.3" fill="#93C97F" stroke="none" stroke-width="0"/>
<rect x="1290.4" y="794.1" width="3.9" height="169.1" fill="#93C97F" stroke="none" stroke-width="0"/>
<rect x="1295.5" y="799.0" width="3.9" height="164.2" fill="#93C97F" stroke="none" stroke-width="0"/>
<rect x="1300.6" y="783.0" width="3.9" height="180.2" fill="#93C97F" stroke="none" stroke-width="0"/>
<rect x="1305.6" y="761.8" width="3.9" height="201.4" fill="#93C97F" stroke="none" stroke-width="0"/>
<rect x="1310.7" y="782.1" width="3.9" height="181.1" fill="#93C97F" stroke="none" stroke-width="0"/>
<rect x="1315.8" y="792.9" width="3.9" height="170.3" fill="#93C97F" stroke="none" stroke-width="0"/>
<rect x="1320.9" y="785.0" width="3.9" height="178.2" fill="#93C97F" stroke="none" stroke-width="0"/>
<rect x="1325.9" y="805.8" width="3.9" height="157.4" fill="#93C97F" stroke="none" stroke-width="0"/>
<rect x="1331.0" y="774.9" width="3.9" height="188.3" fill="#93C97F" stroke="none" stroke-width="0"/>
<rect x="1336.1" y="792.9" width="3.9" height="170.3" fill="#93C97F" stroke="none" stroke-width="0"/>
<rect x="1341.1" y="789.8" width="3.9" height="173.4" fill="#93C97F" stroke="none" stroke-width="0"/>
<rect x="1346.2" y="785.0" width="3.9" height="178.2" fill="#93C97F" stroke="none" stroke-width="0"/>
<rect x="1351.3" y="776.9" width="3.9" height="186.3" fill="#93C97F" stroke="none" stroke-width="0"/>
<rect x="1356.3" y="781.0" width="3.9" height="182.2" fill="#93C97F" stroke="none" stroke-width="0"/>
<rect x="1361.4" y="772.9" width="3.9" height="190.3" fill="#93C97F" stroke="none" stroke-width="0"/>
<rect x="1366.5" y="781.0" width="3.9" height="182.2" fill="#93C97F" stroke="none" stroke-width="0"/>
<rect x="1371.6" y="769.9" width="3.9" height="193.3" fill="#93C97F" stroke="none" stroke-width="0"/>
<rect x="1376.6" y="812.0" width="3.9" height="151.2" fill="#93C97F" stroke="none" stroke-width="0"/>
<rect x="1381.7" y="786.0" width="3.9" height="177.2" fill="#93C97F" stroke="none" stroke-width="0"/>
<rect x="1386.8" y="794.8" width="3.9" height="168.4" fill="#93C97F" stroke="none" stroke-width="0"/>
<rect x="1391.8" y="786.9" width="3.9" height="176.3" fill="#93C97F" stroke="none" stroke-width="0"/>
<rect x="1396.9" y="772.9" width="3.9" height="190.3" fill="#93C97F" stroke="none" stroke-width="0"/>
<rect x="1402.0" y="786.9" width="3.9" height="176.3" fill="#93C97F" stroke="none" stroke-width="0"/>
<rect x="1407.0" y="789.8" width="3.9" height="173.4" fill="#93C97F" stroke="none" stroke-width="0"/>
<rect x="1412.1" y="789.8" width="3.9" height="173.4" fill="#93C97F" stroke="none" stroke-width="0"/>
<rect x="1417.2" y="791.8" width="3.9" height="171.4" fill="#93C97F" stroke="none" stroke-width="0"/>
<rect x="1422.3" y="775.4" width="3.9" height="187.8" fill="#93C97F" stroke="none" stroke-width="0"/>
<rect x="1427.3" y="789.8" width="3.9" height="173.4" fill="#93C97F" stroke="none" stroke-width="0"/>
<rect x="1432.4" y="790.9" width="3.9" height="172.3" fill="#93C97F" stroke="none" stroke-width="0"/>
<rect x="1437.5" y="776.9" width="3.9" height="186.3" fill="#93C97F" stroke="none" stroke-width="0"/>
<rect x="1442.5" y="794.1" width="3.9" height="169.1" fill="#93C97F" stroke="none" stroke-width="0"/>
<rect x="1447.6" y="790.3" width="3.9" height="172.9" fill="#93C97F" stroke="none" stroke-width="0"/>
<rect x="1452.7" y="784.2" width="3.9" height="179.0" fill="#93C97F" stroke="none" stroke-width="0"/>
<rect x="1457.8" y="771.1" width="3.9" height="192.1" fill="#93C97F" stroke="none" stroke-width="0"/>
<rect x="1462.8" y="786.9" width="3.9" height="176.3" fill="#93C97F" stroke="none" stroke-width="0"/>
<rect x="1467.9" y="775.2" width="3.9" height="188.0" fill="#93C97F" stroke="none" stroke-width="0"/>
<rect x="1473.0" y="793.2" width="3.9" height="170.0" fill="#93C97F" stroke="none" stroke-width="0"/>
<rect x="1478.0" y="782.5" width="3.9" height="180.7" fill="#93C97F" stroke="none" stroke-width="0"/>
<rect x="1483.1" y="775.2" width="3.9" height="188.0" fill="#93C97F" stroke="none" stroke-width="0"/>
<rect x="1488.2" y="776.1" width="3.9" height="187.1" fill="#93C97F" stroke="none" stroke-width="0"/>
<rect x="1493.2" y="785.1" width="3.9" height="178.1" fill="#93C97F" stroke="none" stroke-width="0"/>
<rect x="1498.3" y="785.1" width="3.9" height="178.1" fill="#93C97F" stroke="none" stroke-width="0"/>
<rect x="1503.4" y="786.9" width="3.9" height="176.3" fill="#93C97F" stroke="none" stroke-width="0"/>
<rect x="1508.5" y="780.2" width="3.9" height="183.0" fill="#93C97F" stroke="none" stroke-width="0"/>
<rect x="1513.5" y="784.2" width="3.9" height="179.0" fill="#93C97F" stroke="none" stroke-width="0"/>
<rect x="1518.6" y="790.0" width="3.9" height="173.2" fill="#93C97F" stroke="none" stroke-width="0"/>
<rect x="1523.7" y="792.1" width="3.9" height="171.1" fill="#93C97F" stroke="none" stroke-width="0"/>
<rect x="1528.7" y="778.0" width="3.9" height="185.2" fill="#93C97F" stroke="none" stroke-width="0"/>
<line x1="899.6" y1="734.3" x2="1535.6" y2="734.3" stroke="#231815" stroke-width="1.5"/>
<line x1="899.6" y1="810.5" x2="907.6" y2="810.5" stroke="#231815" stroke-width="1"/>
<line x1="899.6" y1="886.5" x2="907.6" y2="886.5" stroke="#231815" stroke-width="1"/>
<text x="864.2" y="742.1" font-size="21.5" font-weight="normal" fill="#231815" textLength="26.8" lengthAdjust="spacingAndGlyphs">150</text>
<text x="864.2" y="818.2" font-size="21.5" font-weight="normal" fill="#231815" textLength="26.8" lengthAdjust="spacingAndGlyphs">100</text>
<text x="872.8" y="894.2" font-size="21.5" font-weight="normal" fill="#231815" textLength="18.2" lengthAdjust="spacingAndGlyphs">50</text>
<text x="881.9" y="970.3" font-size="21.5" font-weight="normal" fill="#231815" textLength="9.1" lengthAdjust="spacingAndGlyphs">0</text>
<polyline points="917.2,768.5 922.3,766.3 927.4,766.4 932.4,769.1 937.5,766.5 942.6,768.1 947.6,767.3 952.7,767.2 957.8,769.5 962.8,770.7 967.9,771.3 973.0,771.3 978.0,771.2 983.1,767.1 988.2,765.6 993.3,765.2 998.3,765.4 1003.4,768.3 1008.5,767.1 1013.5,771.3 1018.6,774.9 1023.7,778.9 1028.8,778.7 1033.8,782.2 1038.9,780.9 1044.0,780.7 1049.0,777.5 1054.1,775.9 1059.2,775.9 1064.2,777.4 1069.3,777.6 1074.4,778.9 1079.5,779.1 1084.5,778.0 1089.6,779.5 1094.7,782.5 1099.7,780.4 1104.8,783.8 1109.9,788.4 1114.9,786.4 1120.0,781.5 1125.1,784.7 1130.2,783.9 1135.2,780.2 1140.3,776.6 1145.4,775.8 1150.4,775.8 1155.5,771.2 1160.6,768.8 1165.6,768.8 1170.7,770.7 1175.8,767.6 1180.8,768.9 1185.9,770.3 1191.0,769.9 1196.1,771.5 1201.1,775.5 1206.2,778.8 1211.3,779.4 1216.3,781.6 1221.4,780.8 1226.5,777.8 1231.5,777.6 1236.6,779.4 1241.7,780.4 1246.8,780.6 1251.8,783.8 1256.9,780.0 1262.0,781.4 1267.0,781.0 1272.1,780.2 1277.2,777.5 1282.2,783.0 1287.3,784.6 1292.4,785.0 1297.5,782.2 1302.5,784.0 1307.6,783.7 1312.7,780.9 1317.7,785.5 1322.8,788.1 1327.9,790.3 1333.0,789.7 1338.0,789.7 1343.1,783.9 1348.2,785.1 1353.2,781.1 1358.3,779.4 1363.4,776.3 1368.4,783.4 1373.5,784.4 1378.6,788.8 1383.7,790.0 1388.7,790.6 1393.8,785.5 1398.9,786.3 1403.9,785.3 1409.0,786.3 1414.1,786.8 1419.1,787.3 1424.2,787.5 1429.3,785.0 1434.3,785.4 1439.4,788.4 1444.5,787.3 1449.6,783.3 1454.6,785.3 1459.7,781.6 1464.8,782.1 1469.8,781.8 1474.9,782.6 1480.0,780.5 1485.1,782.4 1490.1,780.8 1495.2,781.7 1500.3,782.7 1505.3,784.3 1510.4,785.3 1515.5,786.7 1520.5,784.9" fill="none" stroke="#0068B7" stroke-width="2.5" stroke-linejoin="round" stroke-linecap="round"/>
<line x1="907.1" y1="770.5" x2="1530.7" y2="787.9" stroke="#E60012" stroke-width="2.5"/>
<text x="883.6" y="988.0" font-size="20" font-weight="normal" fill="#231815" textLength="35.5" lengthAdjust="spacingAndGlyphs">1900</text>
<text x="1009.9" y="988.0" font-size="20" font-weight="normal" fill="#231815" textLength="35.5" lengthAdjust="spacingAndGlyphs">1925</text>
<text x="1136.2" y="988.0" font-size="20" font-weight="normal" fill="#231815" textLength="35.5" lengthAdjust="spacingAndGlyphs">1950</text>
<text x="1262.4" y="988.0" font-size="20" font-weight="normal" fill="#231815" textLength="35.5" lengthAdjust="spacingAndGlyphs">1975</text>
<text x="1388.7" y="988.0" font-size="20" font-weight="normal" fill="#231815" textLength="35.5" lengthAdjust="spacingAndGlyphs">2000</text>
<text x="1515.0" y="988.0" font-size="20" font-weight="normal" fill="#231815" textLength="35.5" lengthAdjust="spacingAndGlyphs">2025</text>
<path d="M1561.2,970.8 Q1553.9,979.9 1561.2,989.0" fill="none" stroke="#231815" stroke-width="1.3"/>
<path d="M1583.1,970.8 Q1590.4,979.9 1583.1,989.0" fill="none" stroke="#231815" stroke-width="1.3"/>
<text x="1562.5" y="986.9" font-size="20.9" font-weight="normal" fill="#231815" textLength="19.4" lengthAdjust="spacingAndGlyphs">年</text>
<path d="M866.1,702.2 Q859.0,710.8 866.1,719.4" fill="none" stroke="#231815" stroke-width="1.3"/>
<path d="M887.9,702.2 Q895.0,710.8 887.9,719.4" fill="none" stroke="#231815" stroke-width="1.3"/>
<text x="867.7" y="717.5" font-size="18.6" font-weight="normal" fill="#231815" textLength="18.6" lengthAdjust="spacingAndGlyphs">日</text>
<text x="1091.5" y="716.8" font-size="21" font-weight="normal" fill="#231815" textLength="291.5" lengthAdjust="spacingAndGlyphs">日降水量1. 0mm以上の年間日数 ※2</text>
<rect x="837.4" y="994.2" width="760.4" height="35.1" fill="#fff" stroke="#231815" stroke-width="1.2"/>
<rect x="845.1" y="1005.3" width="34.7" height="15.1" fill="#93C97F" stroke="none" stroke-width="0"/>
<text x="889.1" y="1018.5" font-size="19" font-weight="normal" fill="#231815" textLength="335.5" lengthAdjust="spacingAndGlyphs">各年の年間日数（１地点当たりの日数）</text>
<line x1="1235.0" y1="1012.5" x2="1269.7" y2="1012.5" stroke="#0068B7" stroke-width="3"/>
<text x="1276.7" y="1018.5" font-size="19" font-weight="normal" fill="#231815" textLength="134.0" lengthAdjust="spacingAndGlyphs">５年移動平均値</text>
<line x1="1434.6" y1="1012.5" x2="1469.6" y2="1012.5" stroke="#E60012" stroke-width="3"/>
<text x="1476.8" y="1018.5" font-size="19" font-weight="normal" fill="#231815" textLength="116.5" lengthAdjust="spacingAndGlyphs">長期変化傾向</text>
<text x="0.7" y="1096.0" font-size="17" font-weight="normal" fill="#000" textLength="75.3" lengthAdjust="spacingAndGlyphs">（備考）</text>
<text x="65.2" y="1096.0" font-size="17" font-weight="normal" fill="#000" textLength="132.2" lengthAdjust="spacingAndGlyphs">図表2−1 気象庁「</text>
<text x="202.1" y="1096.0" font-size="17" font-weight="normal" fill="#000" textLength="287.1" lengthAdjust="spacingAndGlyphs">日本の年平均気温偏差の経年変化」</text>
<text x="472.0" y="1096.0" font-size="17" font-weight="normal" fill="#000" textLength="209.5" lengthAdjust="spacingAndGlyphs">（1898年から2024年まで）</text>
<text x="673.8" y="1096.0" font-size="17" font-weight="normal" fill="#000" textLength="98.8" lengthAdjust="spacingAndGlyphs">により作成。</text>
<text x="764.8" y="1096.0" font-size="17" font-weight="normal" fill="#000" textLength="140.7" lengthAdjust="spacingAndGlyphs">図表2−2 気象庁「</text>
<text x="906.1" y="1096.0" font-size="17" font-weight="normal" fill="#000" textLength="349.2" lengthAdjust="spacingAndGlyphs">大都市における猛暑日日数の長期変化傾向」</text>
<text x="1246.2" y="1096.0" font-size="17" font-weight="normal" fill="#000" textLength="38.7" lengthAdjust="spacingAndGlyphs">の「</text>
<text x="1288.3" y="1096.0" font-size="17" font-weight="normal" fill="#000" textLength="278.9" lengthAdjust="spacingAndGlyphs">東京の年間猛暑日日数」により作成。</text>
<text x="67.3" y="1119.0" font-size="17" font-weight="normal" fill="#000" textLength="132.4" lengthAdjust="spacingAndGlyphs">図表2−3 気象庁「</text>
<text x="199.5" y="1119.0" font-size="17" font-weight="normal" fill="#000" textLength="189.5" lengthAdjust="spacingAndGlyphs">気候変動監視レポート」</text>
<text x="381.2" y="1119.0" font-size="17" font-weight="normal" fill="#000" textLength="375.6" lengthAdjust="spacingAndGlyphs">により作成。1901年から2024年までの経年変化。</text>
<text x="1586.0" y="1116.0" font-size="20" font-weight="normal" fill="#8c8c8c" textLength="24.0" lengthAdjust="spacingAndGlyphs">10</text>
</svg></body></html>
